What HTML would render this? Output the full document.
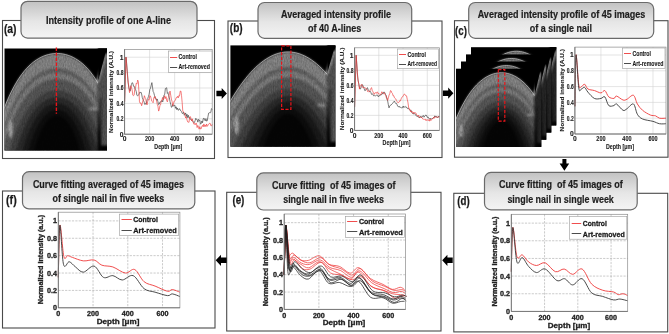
<!DOCTYPE html><html><head><meta charset="utf-8"><style>html,body{margin:0;padding:0;background:#fff;width:669px;height:334px;overflow:hidden}svg{display:block;will-change:transform}text{font-family:"Liberation Sans", sans-serif;white-space:pre}</style></head><body>
<svg width="669" height="334" viewBox="0 0 669 334">
<defs>
<linearGradient id="tg" x1="0" y1="0" x2="0" y2="1"><stop offset="0" stop-color="#c2c2c2"/><stop offset="0.55" stop-color="#e6e6e6"/><stop offset="1" stop-color="#f4f4f4"/></linearGradient>
<linearGradient id="og" x1="0" y1="0" x2="0" y2="1"><stop offset="0" stop-color="#8a8a8a"/><stop offset="0.1" stop-color="#8e8e8e"/><stop offset="0.5" stop-color="#6a6a6a"/><stop offset="1" stop-color="#2a2a2a"/></linearGradient>
<radialGradient id="orad"><stop offset="0" stop-color="#000" stop-opacity="1"/><stop offset="0.55" stop-color="#000" stop-opacity="0.95"/><stop offset="1" stop-color="#000" stop-opacity="0"/></radialGradient>
<filter id="bl1" x="-50%" y="-50%" width="200%" height="200%"><feGaussianBlur stdDeviation="0.8"/></filter>
<filter id="otex" x="0" y="0" width="100%" height="100%" color-interpolation-filters="sRGB"><feGaussianBlur in="SourceGraphic" stdDeviation="1.3" result="b"/><feTurbulence type="fractalNoise" baseFrequency="0.9 0.35" numOctaves="2" seed="5" result="n"/><feColorMatrix in="n" type="matrix" values="0 0 0 0 0.5  0 0 0 0 0.5  0 0 0 0 0.5  0.33 0.33 0.33 0 0" result="ng"/><feComposite in="b" in2="ng" operator="arithmetic" k1="1.1" k2="0.45" k3="0" k4="0"/></filter>
<filter id="tex" x="0" y="0" width="100%" height="100%"><feTurbulence type="fractalNoise" baseFrequency="0.9 0.08" numOctaves="2" seed="3"/><feColorMatrix type="saturate" values="0"/></filter>
</defs>
<rect width="669" height="334" fill="#fff"/>
<rect x="2.5" y="20.5" width="212" height="138" fill="none" stroke="#4a4a4a" stroke-width="1.1"/>
<rect x="228" y="21" width="214" height="136.5" fill="none" stroke="#4a4a4a" stroke-width="1.1"/>
<rect x="454.5" y="20.7" width="213.5" height="136.5" fill="none" stroke="#4a4a4a" stroke-width="1.1"/>
<rect x="2.5" y="191" width="212.5" height="137" fill="none" stroke="#4a4a4a" stroke-width="1.1"/>
<rect x="226.7" y="192.3" width="214.3" height="138.7" fill="none" stroke="#4a4a4a" stroke-width="1.1"/>
<rect x="453.8" y="193.3" width="213.9" height="138.6" fill="none" stroke="#4a4a4a" stroke-width="1.1"/>
<text x="10.2" y="32.9" font-size="12.2" font-weight="bold" text-anchor="middle" fill="#1a1a1a" textLength="12.6" lengthAdjust="spacingAndGlyphs" stroke="#1a1a1a" stroke-width="0.25" >(a)</text>
<text x="236.2" y="32" font-size="12.2" font-weight="bold" text-anchor="middle" fill="#1a1a1a" textLength="12.8" lengthAdjust="spacingAndGlyphs" stroke="#1a1a1a" stroke-width="0.25" >(b)</text>
<text x="461" y="34.7" font-size="12.2" font-weight="bold" text-anchor="middle" fill="#1a1a1a" textLength="11.8" lengthAdjust="spacingAndGlyphs" stroke="#1a1a1a" stroke-width="0.25" >(c)</text>
<text x="11.4" y="203.5" font-size="12.2" font-weight="bold" text-anchor="middle" fill="#1a1a1a" textLength="10.6" lengthAdjust="spacingAndGlyphs" stroke="#1a1a1a" stroke-width="0.25" >(f)</text>
<text x="238.4" y="204" font-size="12.2" font-weight="bold" text-anchor="middle" fill="#1a1a1a" textLength="12" lengthAdjust="spacingAndGlyphs" stroke="#1a1a1a" stroke-width="0.25" >(e)</text>
<text x="463.5" y="204.5" font-size="12.2" font-weight="bold" text-anchor="middle" fill="#1a1a1a" textLength="12.4" lengthAdjust="spacingAndGlyphs" stroke="#1a1a1a" stroke-width="0.25" >(d)</text>
<rect x="21" y="1.3" width="176" height="36.8" rx="6.5" ry="6.5" fill="url(#tg)" stroke="#6a6a6a" stroke-width="1.2"/>
<text x="108.5" y="24" font-size="10.2" font-weight="bold" text-anchor="middle" fill="#1e1e1e" textLength="125" lengthAdjust="spacingAndGlyphs" stroke="#1e1e1e" stroke-width="0.2" >Intensity profile of one A-line</text>
<rect x="258" y="2.5" width="153.7" height="35.8" rx="6.5" ry="6.5" fill="url(#tg)" stroke="#6a6a6a" stroke-width="1.2"/>
<text x="336" y="17.8" font-size="10.2" font-weight="bold" text-anchor="middle" fill="#1e1e1e" textLength="110" lengthAdjust="spacingAndGlyphs" stroke="#1e1e1e" stroke-width="0.2" >Averaged intensity profile</text>
<text x="334.7" y="32.2" font-size="10.2" font-weight="bold" text-anchor="middle" fill="#1e1e1e" textLength="53.4" lengthAdjust="spacingAndGlyphs" stroke="#1e1e1e" stroke-width="0.2" >of 40 A-lines</text>
<rect x="468.7" y="2.5" width="185" height="35.8" rx="6.5" ry="6.5" fill="url(#tg)" stroke="#6a6a6a" stroke-width="1.2"/>
<text x="561.5" y="17.8" font-size="10.2" font-weight="bold" text-anchor="middle" fill="#1e1e1e" textLength="167.6" lengthAdjust="spacingAndGlyphs" stroke="#1e1e1e" stroke-width="0.2" >Averaged intensity profile of 45 images</text>
<text x="560.9" y="32.2" font-size="10.2" font-weight="bold" text-anchor="middle" fill="#1e1e1e" textLength="62.2" lengthAdjust="spacingAndGlyphs" stroke="#1e1e1e" stroke-width="0.2" >of a single nail</text>
<rect x="22.5" y="171.7" width="172.3" height="37.2" rx="6.5" ry="6.5" fill="url(#tg)" stroke="#6a6a6a" stroke-width="1.2"/>
<text x="108.45" y="187.8" font-size="10.2" font-weight="bold" text-anchor="middle" fill="#1e1e1e" textLength="151.1" lengthAdjust="spacingAndGlyphs" stroke="#1e1e1e" stroke-width="0.2" >Curve fitting averaged of 45 images</text>
<text x="108.35" y="202.2" font-size="10.2" font-weight="bold" text-anchor="middle" fill="#1e1e1e" textLength="111.7" lengthAdjust="spacingAndGlyphs" stroke="#1e1e1e" stroke-width="0.2" >of single nail in five weeks</text>
<rect x="256.8" y="172.9" width="154" height="37.1" rx="6.5" ry="6.5" fill="url(#tg)" stroke="#6a6a6a" stroke-width="1.2"/>
<text x="333.8" y="188.6" font-size="10.2" font-weight="bold" text-anchor="middle" fill="#1e1e1e" textLength="123.6" lengthAdjust="spacingAndGlyphs" stroke="#1e1e1e" stroke-width="0.2" >Curve fitting  of 45 images of</text>
<text x="333.55" y="202.9" font-size="10.2" font-weight="bold" text-anchor="middle" fill="#1e1e1e" textLength="100.7" lengthAdjust="spacingAndGlyphs" stroke="#1e1e1e" stroke-width="0.2" >single nail in five weeks</text>
<rect x="484.5" y="172.4" width="152.7" height="37.4" rx="6.5" ry="6.5" fill="url(#tg)" stroke="#6a6a6a" stroke-width="1.2"/>
<text x="560.85" y="188.3" font-size="10.2" font-weight="bold" text-anchor="middle" fill="#1e1e1e" textLength="123.9" lengthAdjust="spacingAndGlyphs" stroke="#1e1e1e" stroke-width="0.2" >Curve fitting  of 45 images of</text>
<text x="560.6" y="202.7" font-size="10.2" font-weight="bold" text-anchor="middle" fill="#1e1e1e" textLength="106.4" lengthAdjust="spacingAndGlyphs" stroke="#1e1e1e" stroke-width="0.2" >single nail in single week</text>
<path d="M216.4,90.7 L221.7,90.7 L221.7,87.9 L226.9,93.5 L221.7,99.1 L221.7,96.3 L216.4,96.3 Z" fill="#000"/>
<path d="M442.9,90.4 L448.2,90.4 L448.2,87.6 L453.4,93.2 L448.2,98.8 L448.2,96 L442.9,96 Z" fill="#000"/>
<path d="M452.7,257.5 L447.4,257.5 L447.4,254.7 L442.2,260.3 L447.4,265.9 L447.4,263.1 L452.7,263.1 Z" fill="#000"/>
<path d="M226.6,257.5 L221,257.5 L221,254.7 L215.7,260.3 L221,265.9 L221,263.1 L226.6,263.1 Z" fill="#000"/>
<path d="M562.4,159 L562.4,163.5 L559.6,163.5 L564.4,170.8 L569.2,163.5 L566.4,163.5 L566.4,159 Z" fill="#000"/>
<clipPath id="oc1"><rect x="4.5" y="48.5" width="102.5" height="102"/></clipPath>
<rect x="4.5" y="48.5" width="102.5" height="102" fill="#000"/>
<g clip-path="url(#oc1)">
<g filter="url(#otex)">
<path d="M-0.62,122.17 L2.19,113.86 L5.01,106.31 L7.83,99.46 L10.65,93.27 L13.47,87.69 L16.29,82.68 L19.11,78.19 L21.93,74.18 L24.74,70.63 L27.56,67.48 L30.38,64.73 L33.2,62.32 L36.02,60.25 L38.84,58.49 L41.66,57.02 L44.48,55.82 L47.29,54.88 L50.11,54.19 L52.93,53.74 L55.75,53.52 L58.57,53.53 L61.39,53.78 L64.21,54.26 L67.03,54.99 L69.84,55.96 L72.66,57.19 L75.48,58.7 L78.3,60.5 L81.12,62.61 L83.94,65.06 L86.76,67.86 L89.58,71.06 L92.39,74.67 L95.21,78.73 L98.03,83.29 L100.85,88.37 L103.67,94.02 L106.49,100.29 L109.31,107.23 L112.12,114.87 L112.12,211.7 L-0.62,211.7 Z" fill="#aaaaaa"/>
<path d="M-0.62,138.78 L2.19,130.22 L5.01,122.45 L7.83,115.41 L10.65,109.05 L13.47,103.31 L16.29,98.17 L19.11,93.56 L21.93,89.45 L24.74,85.81 L27.56,82.59 L30.38,79.76 L33.2,77.31 L36.02,75.19 L38.84,73.39 L41.66,71.88 L44.48,70.66 L47.29,69.7 L50.11,68.99 L52.93,68.53 L55.75,68.31 L58.57,68.33 L61.39,68.58 L64.21,69.07 L67.03,69.81 L69.84,70.8 L72.66,72.06 L75.48,73.6 L78.3,75.44 L81.12,77.6 L83.94,80.1 L86.76,82.97 L89.58,86.25 L92.39,89.95 L95.21,94.12 L98.03,98.79 L100.85,104.01 L103.67,109.82 L106.49,116.26 L109.31,123.39 L112.12,131.26 L112.12,211.7 L-0.62,211.7 Z" fill="#7c7c7c"/>
<path d="M-0.62,145.26 L2.19,136.44 L5.01,128.44 L7.83,121.2 L10.65,114.66 L13.47,108.77 L16.29,103.48 L19.11,98.75 L21.93,94.54 L24.74,90.8 L27.56,87.5 L30.38,84.61 L33.2,82.09 L36.02,79.93 L38.84,78.09 L41.66,76.55 L44.48,75.3 L47.29,74.32 L50.11,73.6 L52.93,73.13 L55.75,72.9 L58.57,72.92 L61.39,73.17 L64.21,73.68 L67.03,74.43 L69.84,75.44 L72.66,76.73 L75.48,78.3 L78.3,80.18 L81.12,82.39 L83.94,84.96 L86.76,87.9 L89.58,91.25 L92.39,95.05 L95.21,99.32 L98.03,104.12 L100.85,109.48 L103.67,115.45 L106.49,122.08 L109.31,129.42 L112.12,137.52 L112.12,211.7 L-0.62,211.7 Z" fill="#a0a0a0"/>
<path d="M-0.62,157.53 L2.19,147.87 L5.01,139.12 L7.83,131.22 L10.65,124.09 L13.47,117.68 L16.29,111.94 L19.11,106.81 L21.93,102.25 L24.74,98.22 L27.56,94.66 L30.38,91.55 L33.2,88.85 L36.02,86.53 L38.84,84.56 L41.66,82.91 L44.48,81.58 L47.29,80.53 L50.11,79.76 L52.93,79.26 L55.75,79.02 L58.57,79.04 L61.39,79.31 L64.21,79.85 L67.03,80.65 L69.84,81.73 L72.66,83.1 L75.48,84.79 L78.3,86.8 L81.12,89.17 L83.94,91.92 L86.76,95.09 L89.58,98.7 L92.39,102.8 L95.21,107.43 L98.03,112.63 L100.85,118.46 L103.67,124.95 L106.49,132.18 L109.31,140.19 L112.12,149.05 L112.12,211.7 L-0.62,211.7 Z" fill="#707070"/>
<path d="M-0.62,189.58 L2.19,177.03 L5.01,165.71 L7.83,155.52 L10.65,146.38 L13.47,138.21 L16.29,130.92 L19.11,124.45 L21.93,118.73 L24.74,113.7 L27.56,109.28 L30.38,105.44 L33.2,102.13 L36.02,99.29 L38.84,96.9 L41.66,94.91 L44.48,93.31 L47.29,92.05 L50.11,91.13 L52.93,90.53 L55.75,90.25 L58.57,90.27 L61.39,90.59 L64.21,91.23 L67.03,92.19 L69.84,93.49 L72.66,95.15 L75.48,97.18 L78.3,99.63 L81.12,102.52 L83.94,105.9 L86.76,109.81 L89.58,114.3 L92.39,119.42 L95.21,125.23 L98.03,131.8 L100.85,139.2 L103.67,147.49 L106.49,156.75 L109.31,167.08 L112.12,178.56 L112.12,211.7 L-0.62,211.7 Z" fill="#525252"/>
<path d="M-0.62,211.7 L2.19,210.14 L5.01,194.98 L7.83,181.41 L10.65,169.31 L13.47,158.54 L16.29,149.01 L19.11,140.59 L21.93,133.2 L24.74,126.73 L27.56,121.1 L30.38,116.24 L33.2,112.07 L36.02,108.53 L38.84,105.55 L41.66,103.1 L44.48,101.12 L47.29,99.59 L50.11,98.47 L52.93,97.74 L55.75,97.39 L58.57,97.42 L61.39,97.81 L64.21,98.59 L67.03,99.76 L69.84,101.35 L72.66,103.38 L75.48,105.9 L78.3,108.94 L81.12,112.57 L83.94,116.82 L86.76,121.78 L89.58,127.5 L92.39,134.08 L95.21,141.6 L98.03,150.16 L100.85,159.84 L103.67,170.77 L106.49,183.05 L109.31,196.82 L112.12,211.7 L112.12,211.7 L-0.62,211.7 Z" fill="#363636"/>
<path d="M-0.62,211.7 L2.19,211.7 L5.01,211.7 L7.83,211.7 L10.65,202.74 L13.47,187.33 L16.29,173.8 L19.11,161.95 L21.93,151.62 L24.74,142.67 L27.56,134.96 L30.38,128.36 L33.2,122.75 L36.02,118.02 L38.84,114.09 L41.66,110.88 L44.48,108.31 L47.29,106.33 L50.11,104.9 L52.93,103.97 L55.75,103.52 L58.57,103.55 L61.39,104.06 L64.21,105.05 L67.03,106.56 L69.84,108.61 L72.66,111.25 L75.48,114.55 L78.3,118.58 L81.12,123.41 L83.94,129.14 L86.76,135.88 L89.58,143.74 L92.39,152.86 L95.21,163.37 L98.03,175.42 L100.85,189.19 L103.67,204.84 L106.49,211.7 L109.31,211.7 L112.12,211.7 L112.12,211.7 L-0.62,211.7 Z" fill="#202020"/>
<path d="M-0.62,211.7 L2.19,211.7 L5.01,211.7 L7.83,211.7 L10.65,211.7 L13.47,211.7 L16.29,211 L19.11,193.2 L21.93,177.85 L24.74,164.68 L27.56,153.46 L30.38,143.97 L33.2,136 L36.02,129.37 L38.84,123.93 L41.66,119.52 L44.48,116.04 L47.29,113.39 L50.11,111.47 L52.93,110.24 L55.75,109.66 L58.57,109.7 L61.39,110.36 L64.21,111.68 L67.03,113.68 L69.84,116.44 L72.66,120.03 L75.48,124.56 L78.3,130.15 L81.12,136.93 L83.94,145.09 L86.76,154.79 L89.58,166.24 L92.39,179.68 L95.21,195.32 L98.03,211.7 L100.85,211.7 L103.67,211.7 L106.49,211.7 L109.31,211.7 L112.12,211.7 L112.12,211.7 L-0.62,211.7 Z" fill="#101010"/>
<path d="M-0.62,211.7 L2.19,211.7 L5.01,211.7 L7.83,211.7 L10.65,211.7 L13.47,211.7 L16.29,211.7 L19.11,211.7 L21.93,211.7 L24.74,198.98 L27.56,181.25 L30.38,166.47 L33.2,154.26 L36.02,144.26 L38.84,136.18 L41.66,129.76 L44.48,124.76 L47.29,120.99 L50.11,118.31 L52.93,116.61 L55.75,115.8 L58.57,115.85 L61.39,116.77 L64.21,118.6 L67.03,121.41 L69.84,125.32 L72.66,130.49 L75.48,137.11 L78.3,145.42 L81.12,155.68 L83.94,168.2 L86.76,183.34 L89.58,201.47 L92.39,211.7 L95.21,211.7 L98.03,211.7 L100.85,211.7 L103.67,211.7 L106.49,211.7 L109.31,211.7 L112.12,211.7 L112.12,211.7 L-0.62,211.7 Z" fill="#060606"/>
<path d="M97.78,38.3 L97.78,160.7 L117.25,160.7 L117.25,38.3 Z" fill="#000"/>
<path d="M96.75,82.85 L105.97,54.62 L109.05,52.58 L109.05,145.4 L100.85,145.4 Z" fill="#6a6a6a"/>
<path d="M96.75,83.87 L106.49,53.6" stroke="#c0c0c0" stroke-width="2.56"/>
<rect x="100.34" y="98.15" width="1.02" height="56.1" fill="#101010"/>
<ellipse cx="10.65" cy="129.08" rx="2.05" ry="9.18" fill="#d8d8d8"/>
<ellipse cx="93.67" cy="108.68" rx="4.61" ry="1.84" fill="#b0b0b0"/>
</g>
<path d="M-0.62,122.17 L1.83,114.87 L4.29,108.16 L6.76,101.99 L9.21,96.34 L11.68,91.17 L14.14,86.46 L16.59,82.17 L19.05,78.27 L21.52,74.74 L23.98,71.55 L26.44,68.69 L28.9,66.13 L31.36,63.86 L33.82,61.84 L36.27,60.08 L38.73,58.55 L41.2,57.24 L43.66,56.14 L46.12,55.24 L48.58,54.54 L51.04,54.02 L53.5,53.68 L55.95,53.51 L58.41,53.53 L60.88,53.72 L63.33,54.09 L65.79,54.64 L68.25,55.38 L70.72,56.31 L73.17,57.44 L75.63,58.79 L78.09,60.36 L80.55,62.16 L83.02,64.22 L85.48,66.54 L87.94,69.15 L90.4,72.06 L92.86,75.3 L95.32,78.89 L97.78,82.85" fill="none" stroke="#e4e4e4" stroke-opacity="0.75" stroke-width="0.8"/>
<path d="M98.29,80.81 L98.29,38.3 L117.25,38.3 L105.46,52.58 Z" fill="#000"/>
</g>
<line x1="56.4" y1="47.5" x2="56.4" y2="113.7" stroke="#e8141a" stroke-width="1.4" stroke-dasharray="3.4,1.6"/>
<clipPath id="oc2"><rect x="230.4" y="45.4" width="105" height="101.3"/></clipPath>
<rect x="230.4" y="45.4" width="105" height="101.3" fill="#000"/>
<g clip-path="url(#oc2)">
<g filter="url(#otex)">
<path d="M225.15,110.33 L228.04,105.11 L230.93,100.13 L233.81,95.39 L236.7,90.9 L239.59,86.65 L242.47,82.65 L245.36,78.9 L248.25,75.39 L251.14,72.12 L254.03,69.1 L256.91,66.33 L259.8,63.8 L262.69,61.52 L265.58,59.48 L268.46,57.68 L271.35,56.13 L274.24,54.83 L277.12,53.77 L280.01,52.96 L282.9,52.39 L285.79,52.07 L288.68,51.99 L291.56,52.16 L294.45,52.57 L297.34,53.23 L300.23,54.13 L303.11,55.28 L306,56.67 L308.89,58.31 L311.77,60.19 L314.66,62.32 L317.55,64.69 L320.44,67.31 L323.33,70.17 L326.21,73.28 L329.1,76.64 L331.99,80.24 L334.88,84.08 L337.76,88.17 L340.65,92.5 L340.65,207.48 L225.15,207.48 Z" fill="#aaaaaa"/>
<path d="M225.15,126.21 L228.04,120.87 L230.93,115.79 L233.81,110.96 L236.7,106.38 L239.59,102.05 L242.47,97.97 L245.36,94.13 L248.25,90.55 L251.14,87.22 L254.03,84.14 L256.91,81.31 L259.8,78.73 L262.69,76.4 L265.58,74.32 L268.46,72.49 L271.35,70.91 L274.24,69.58 L277.12,68.5 L280.01,67.67 L282.9,67.09 L285.79,66.76 L288.68,66.68 L291.56,66.85 L294.45,67.27 L297.34,67.94 L300.23,68.86 L303.11,70.03 L306,71.45 L308.89,73.12 L311.77,75.04 L314.66,77.22 L317.55,79.64 L320.44,82.31 L323.33,85.23 L326.21,88.4 L329.1,91.83 L331.99,95.5 L334.88,99.42 L337.76,103.59 L340.65,108.02 L340.65,207.48 L225.15,207.48 Z" fill="#7c7c7c"/>
<path d="M225.15,131.99 L228.04,126.54 L230.93,121.36 L233.81,116.43 L236.7,111.75 L239.59,107.33 L242.47,103.17 L245.36,99.26 L248.25,95.6 L251.14,92.2 L254.03,89.06 L256.91,86.17 L259.8,83.53 L262.69,81.16 L265.58,79.03 L268.46,77.16 L271.35,75.55 L274.24,74.19 L277.12,73.09 L280.01,72.25 L282.9,71.65 L285.79,71.32 L288.68,71.24 L291.56,71.41 L294.45,71.84 L297.34,72.52 L300.23,73.46 L303.11,74.66 L306,76.11 L308.89,77.81 L311.77,79.78 L314.66,81.99 L317.55,84.46 L320.44,87.19 L323.33,90.17 L326.21,93.41 L329.1,96.9 L331.99,100.65 L334.88,104.65 L337.76,108.91 L340.65,113.42 L340.65,207.48 L225.15,207.48 Z" fill="#a0a0a0"/>
<path d="M225.15,141.96 L228.04,136.17 L230.93,130.65 L233.81,125.4 L236.7,120.43 L239.59,115.72 L242.47,111.29 L245.36,107.13 L248.25,103.24 L251.14,99.62 L254.03,96.28 L256.91,93.2 L259.8,90.4 L262.69,87.87 L265.58,85.61 L268.46,83.62 L271.35,81.91 L274.24,80.46 L277.12,79.29 L280.01,78.39 L282.9,77.76 L285.79,77.4 L288.68,77.31 L291.56,77.5 L294.45,77.96 L297.34,78.68 L300.23,79.68 L303.11,80.96 L306,82.5 L308.89,84.31 L311.77,86.4 L314.66,88.76 L317.55,91.39 L320.44,94.29 L323.33,97.46 L326.21,100.91 L329.1,104.63 L331.99,108.61 L334.88,112.87 L337.76,117.4 L340.65,122.21 L340.65,207.48 L225.15,207.48 Z" fill="#707070"/>
<path d="M225.15,165.54 L228.04,158.64 L230.93,152.06 L233.81,145.8 L236.7,139.87 L239.59,134.26 L242.47,128.97 L245.36,124.01 L248.25,119.37 L251.14,115.06 L254.03,111.07 L256.91,107.4 L259.8,104.06 L262.69,101.05 L265.58,98.35 L268.46,95.98 L271.35,93.93 L274.24,92.21 L277.12,90.81 L280.01,89.74 L282.9,88.99 L285.79,88.56 L288.68,88.46 L291.56,88.68 L294.45,89.22 L297.34,90.09 L300.23,91.28 L303.11,92.8 L306,94.64 L308.89,96.81 L311.77,99.29 L314.66,102.11 L317.55,105.24 L320.44,108.7 L323.33,112.48 L326.21,116.59 L329.1,121.02 L331.99,125.78 L334.88,130.86 L337.76,136.26 L340.65,141.99 L340.65,207.48 L225.15,207.48 Z" fill="#525252"/>
<path d="M225.15,189.04 L228.04,180.66 L230.93,172.68 L233.81,165.09 L236.7,157.9 L239.59,151.1 L242.47,144.69 L245.36,138.67 L248.25,133.04 L251.14,127.81 L254.03,122.97 L256.91,118.53 L259.8,114.48 L262.69,110.82 L265.58,107.55 L268.46,104.67 L271.35,102.19 L274.24,100.1 L277.12,98.41 L280.01,97.1 L282.9,96.19 L285.79,95.67 L288.68,95.55 L291.56,95.82 L294.45,96.48 L297.34,97.53 L300.23,98.98 L303.11,100.82 L306,103.05 L308.89,105.67 L311.77,108.69 L314.66,112.1 L317.55,115.9 L320.44,120.1 L323.33,124.69 L326.21,129.67 L329.1,135.04 L331.99,140.81 L334.88,146.97 L337.76,153.52 L340.65,160.47 L340.65,207.48 L225.15,207.48 Z" fill="#363636"/>
<path d="M225.15,207.48 L228.04,207.48 L230.93,199.87 L233.81,190.21 L236.7,181.04 L239.59,172.38 L242.47,164.21 L245.36,156.55 L248.25,149.39 L251.14,142.72 L254.03,136.56 L256.91,130.9 L259.8,125.74 L262.69,121.07 L265.58,116.91 L268.46,113.25 L271.35,110.09 L274.24,107.43 L277.12,105.27 L280.01,103.61 L282.9,102.45 L285.79,101.79 L288.68,101.63 L291.56,101.97 L294.45,102.81 L297.34,104.15 L300.23,106 L303.11,108.34 L306,111.18 L308.89,114.52 L311.77,118.37 L314.66,122.71 L317.55,127.55 L320.44,132.9 L323.33,138.74 L326.21,145.09 L329.1,151.93 L331.99,159.28 L334.88,167.12 L337.76,175.47 L340.65,184.32 L340.65,207.48 L225.15,207.48 Z" fill="#202020"/>
<path d="M225.15,207.48 L228.04,207.48 L230.93,207.48 L233.81,207.48 L236.7,207.48 L239.59,200.87 L242.47,190.12 L245.36,180.03 L248.25,170.6 L251.14,161.82 L254.03,153.71 L256.91,146.25 L259.8,139.45 L262.69,133.31 L265.58,127.83 L268.46,123.01 L271.35,118.85 L274.24,115.35 L277.12,112.5 L280.01,110.32 L282.9,108.79 L285.79,107.92 L288.68,107.71 L291.56,108.16 L294.45,109.27 L297.34,111.03 L300.23,113.46 L303.11,116.54 L306,120.29 L308.89,124.69 L311.77,129.75 L314.66,135.47 L317.55,141.85 L320.44,148.89 L323.33,156.58 L326.21,164.94 L329.1,173.95 L331.99,183.62 L334.88,193.96 L337.76,204.95 L340.65,207.48 L340.65,207.48 L225.15,207.48 Z" fill="#101010"/>
<path d="M225.15,207.48 L228.04,207.48 L230.93,207.48 L233.81,207.48 L236.7,207.48 L239.59,207.48 L242.47,207.48 L245.36,207.48 L248.25,200.33 L251.14,188.26 L254.03,177.09 L256.91,166.83 L259.8,157.47 L262.69,149.03 L265.58,141.49 L268.46,134.85 L271.35,129.12 L274.24,124.3 L277.12,120.39 L280.01,117.38 L282.9,115.28 L285.79,114.08 L288.68,113.79 L291.56,114.41 L294.45,115.94 L297.34,118.37 L300.23,121.7 L303.11,125.95 L306,131.1 L308.89,137.16 L311.77,144.12 L314.66,151.99 L317.55,160.77 L320.44,170.46 L323.33,181.05 L326.21,192.54 L329.1,204.95 L331.99,207.48 L334.88,207.48 L337.76,207.48 L340.65,207.48 L340.65,207.48 L225.15,207.48 Z" fill="#060606"/>
<path d="M327,35.27 L327,156.83 L345.9,156.83 L345.9,35.27 Z" fill="#000"/>
<path d="M325.95,74.17 L334.35,51.48 L337.5,49.45 L337.5,141.63 L330.15,141.63 Z" fill="#6a6a6a"/>
<path d="M325.95,75.19 L334.88,50.46" stroke="#c0c0c0" stroke-width="2.62"/>
<rect x="329.62" y="89.37" width="1.05" height="55.72" fill="#101010"/>
<ellipse cx="236.7" cy="125.43" rx="2.1" ry="9.12" fill="#d8d8d8"/>
<ellipse cx="321.75" cy="105.17" rx="4.72" ry="1.82" fill="#b0b0b0"/>
</g>
<path d="M225.15,110.33 L227.7,105.71 L230.24,101.28 L232.79,97.04 L235.34,92.99 L237.88,89.13 L240.43,85.47 L242.97,81.99 L245.52,78.7 L248.07,75.6 L250.61,72.7 L253.16,69.98 L255.71,67.46 L258.25,65.13 L260.8,62.98 L263.34,61.03 L265.89,59.27 L268.44,57.7 L270.98,56.32 L273.53,55.13 L276.07,54.13 L278.62,53.32 L281.17,52.7 L283.71,52.27 L286.26,52.04 L288.81,51.99 L291.35,52.14 L293.9,52.47 L296.44,53 L298.99,53.71 L301.54,54.62 L304.08,55.72 L306.63,57.01 L309.18,58.48 L311.72,60.15 L314.27,62.01 L316.81,64.06 L319.36,66.31 L321.91,68.74 L324.45,71.36 L327,74.17" fill="none" stroke="#e4e4e4" stroke-opacity="0.75" stroke-width="0.8"/>
<path d="M327.52,72.15 L327.52,35.27 L345.9,35.27 L333.82,49.45 Z" fill="#000"/>
</g>
<rect x="281.6" y="45.8" width="9.3" height="63.6" fill="none" stroke="#e8141a" stroke-width="1.2" stroke-dasharray="3.2,1.5"/>
<clipPath id="oc3"><rect x="471" y="47.2" width="85.3" height="78.2"/></clipPath>
<rect x="471" y="47.2" width="85.3" height="78.2" fill="#000"/>
<g clip-path="url(#oc3)">
<g filter="url(#otex)">
<path d="M466.74,108.39 L469.08,102.22 L471.43,96.51 L473.77,91.25 L476.12,86.41 L478.46,81.97 L480.81,77.9 L483.16,74.19 L485.5,70.81 L487.85,67.75 L490.19,65 L492.54,62.53 L494.88,60.34 L497.23,58.4 L499.58,56.72 L501.92,55.28 L504.27,54.06 L506.61,53.08 L508.96,52.31 L511.3,51.75 L513.65,51.41 L516,51.27 L518.34,51.34 L520.69,51.62 L523.03,52.1 L525.38,52.8 L527.72,53.72 L530.07,54.85 L532.42,56.22 L534.76,57.82 L537.11,59.67 L539.45,61.78 L541.8,64.16 L544.14,66.82 L546.49,69.78 L548.84,73.05 L551.18,76.65 L553.53,80.6 L555.87,84.92 L558.22,89.62 L560.57,94.74 L560.57,172.32 L466.74,172.32 Z" fill="#aaaaaa"/>
<path d="M466.74,121.11 L469.08,114.77 L471.43,108.92 L473.77,103.52 L476.12,98.56 L478.46,94.01 L480.81,89.84 L483.16,86.04 L485.5,82.58 L487.85,79.45 L490.19,76.63 L492.54,74.11 L494.88,71.87 L497.23,69.89 L499.58,68.17 L501.92,66.7 L504.27,65.46 L506.61,64.45 L508.96,63.67 L511.3,63.1 L513.65,62.75 L516,62.61 L518.34,62.68 L520.69,62.96 L523.03,63.46 L525.38,64.17 L527.72,65.11 L530.07,66.27 L532.42,67.66 L534.76,69.3 L537.11,71.19 L539.45,73.35 L541.8,75.78 L544.14,78.5 L546.49,81.52 L548.84,84.87 L551.18,88.56 L553.53,92.6 L555.87,97.03 L558.22,101.85 L560.57,107.1 L560.57,172.32 L466.74,172.32 Z" fill="#7c7c7c"/>
<path d="M466.74,126.06 L469.08,119.55 L471.43,113.55 L473.77,108.01 L476.12,102.92 L478.46,98.25 L480.81,93.98 L483.16,90.08 L485.5,86.54 L487.85,83.34 L490.19,80.46 L492.54,77.88 L494.88,75.58 L497.23,73.56 L499.58,71.81 L501.92,70.3 L504.27,69.04 L506.61,68.01 L508.96,67.21 L511.3,66.63 L513.65,66.27 L516,66.13 L518.34,66.2 L520.69,66.49 L523.03,67 L525.38,67.72 L527.72,68.68 L530.07,69.86 L532.42,71.29 L534.76,72.96 L537.11,74.89 L539.45,77.1 L541.8,79.58 L544.14,82.36 L546.49,85.46 L548.84,88.89 L551.18,92.66 L553.53,96.81 L555.87,101.35 L558.22,106.3 L560.57,111.68 L560.57,172.32 L466.74,172.32 Z" fill="#a0a0a0"/>
<path d="M466.74,135.4 L469.08,128.33 L471.43,121.82 L473.77,115.82 L476.12,110.32 L478.46,105.27 L480.81,100.67 L483.16,96.47 L485.5,92.67 L487.85,89.23 L490.19,86.13 L492.54,83.37 L494.88,80.91 L497.23,78.75 L499.58,76.87 L501.92,75.27 L504.27,73.92 L506.61,72.82 L508.96,71.97 L511.3,71.35 L513.65,70.97 L516,70.82 L518.34,70.9 L520.69,71.2 L523.03,71.74 L525.38,72.52 L527.72,73.53 L530.07,74.8 L532.42,76.32 L534.76,78.11 L537.11,80.17 L539.45,82.53 L541.8,85.19 L544.14,88.18 L546.49,91.5 L548.84,95.19 L551.18,99.25 L553.53,103.72 L555.87,108.62 L558.22,113.97 L560.57,119.8 L560.57,172.32 L466.74,172.32 Z" fill="#707070"/>
<path d="M466.74,159.45 L469.08,150.5 L471.43,142.27 L473.77,134.73 L476.12,127.83 L478.46,121.54 L480.81,115.81 L483.16,110.62 L485.5,105.92 L487.85,101.7 L490.19,97.91 L492.54,94.54 L494.88,91.56 L497.23,88.95 L499.58,86.68 L501.92,84.75 L504.27,83.13 L506.61,81.82 L508.96,80.8 L511.3,80.06 L513.65,79.6 L516,79.42 L518.34,79.51 L520.69,79.88 L523.03,80.52 L525.38,81.45 L527.72,82.67 L530.07,84.18 L532.42,86.01 L534.76,88.17 L537.11,90.67 L539.45,93.52 L541.8,96.77 L544.14,100.41 L546.49,104.49 L548.84,109.03 L551.18,114.05 L553.53,119.6 L555.87,125.7 L558.22,132.4 L560.57,139.73 L560.57,172.32 L466.74,172.32 Z" fill="#525252"/>
<path d="M466.74,172.32 L469.08,172.32 L471.43,164.37 L473.77,154.6 L476.12,145.7 L478.46,137.62 L480.81,130.31 L483.16,123.7 L485.5,117.76 L487.85,112.44 L490.19,107.7 L492.54,103.49 L494.88,99.79 L497.23,96.56 L499.58,93.77 L501.92,91.39 L504.27,89.41 L506.61,87.81 L508.96,86.57 L511.3,85.67 L513.65,85.12 L516,84.9 L518.34,85.01 L520.69,85.45 L523.03,86.24 L525.38,87.36 L527.72,88.85 L530.07,90.7 L532.42,92.94 L534.76,95.6 L537.11,98.68 L539.45,102.23 L541.8,106.26 L544.14,110.83 L546.49,115.96 L548.84,121.69 L551.18,128.07 L553.53,135.15 L555.87,142.97 L558.22,151.59 L560.57,161.08 L560.57,172.32 L466.74,172.32 Z" fill="#363636"/>
<path d="M466.74,172.32 L469.08,172.32 L471.43,172.32 L473.77,172.32 L476.12,171.2 L478.46,160.02 L480.81,149.97 L483.16,140.95 L485.5,132.89 L487.85,125.73 L490.19,119.38 L492.54,113.79 L494.88,108.9 L497.23,104.65 L499.58,101.01 L501.92,97.93 L504.27,95.37 L506.61,93.31 L508.96,91.72 L511.3,90.58 L513.65,89.87 L516,89.59 L518.34,89.73 L520.69,90.3 L523.03,91.3 L525.38,92.74 L527.72,94.65 L530.07,97.04 L532.42,99.94 L534.76,103.4 L537.11,107.44 L539.45,112.11 L541.8,117.47 L544.14,123.56 L546.49,130.45 L548.84,138.21 L551.18,146.91 L553.53,156.61 L555.87,167.42 L558.22,172.32 L560.57,172.32 L560.57,172.32 L466.74,172.32 Z" fill="#202020"/>
<path d="M466.74,172.32 L469.08,172.32 L471.43,172.32 L473.77,172.32 L476.12,172.32 L478.46,172.32 L480.81,172.32 L483.16,165.67 L485.5,154.11 L487.85,143.91 L490.19,134.96 L492.54,127.14 L494.88,120.36 L497.23,114.53 L499.58,109.57 L501.92,105.4 L504.27,101.97 L506.61,99.21 L508.96,97.1 L511.3,95.59 L513.65,94.65 L516,94.28 L518.34,94.47 L520.69,95.22 L523.03,96.54 L525.38,98.45 L527.72,100.99 L530.07,104.2 L532.42,108.12 L534.76,112.82 L537.11,118.36 L539.45,124.82 L541.8,132.28 L544.14,140.85 L546.49,150.63 L548.84,161.73 L551.18,172.32 L553.53,172.32 L555.87,172.32 L558.22,172.32 L560.57,172.32 L560.57,172.32 L466.74,172.32 Z" fill="#101010"/>
<path d="M466.74,172.32 L469.08,172.32 L471.43,172.32 L473.77,172.32 L476.12,172.32 L478.46,172.32 L480.81,172.32 L483.16,172.32 L485.5,172.32 L487.85,171.66 L490.19,158.07 L492.54,146.34 L494.88,136.28 L497.23,127.74 L499.58,120.54 L501.92,114.57 L504.27,109.7 L506.61,105.82 L508.96,102.87 L511.3,100.78 L513.65,99.49 L516,98.98 L518.34,99.24 L520.69,100.27 L523.03,102.1 L525.38,104.76 L527.72,108.32 L530.07,112.86 L532.42,118.46 L534.76,125.24 L537.11,133.33 L539.45,142.87 L541.8,154.03 L544.14,167 L546.49,172.32 L548.84,172.32 L551.18,172.32 L553.53,172.32 L555.87,172.32 L558.22,172.32 L560.57,172.32 L560.57,172.32 L466.74,172.32 Z" fill="#060606"/>
<path d="M549.48,39.38 L549.48,133.22 L564.83,133.22 L564.83,39.38 Z" fill="#000"/>
<path d="M548.62,74 L555.45,51.89 L558.01,50.33 L558.01,121.49 L552.03,121.49 Z" fill="#303030"/>
<path d="M548.62,74.78 L555.87,51.11" stroke="#d8d8d8" stroke-width="2.13"/>
<rect x="551.61" y="85.73" width="0.85" height="43.01" fill="#101010"/>
<ellipse cx="476.12" cy="108.98" rx="1.71" ry="7.04" fill="#d8d8d8"/>
<ellipse cx="545.21" cy="93.34" rx="3.84" ry="1.41" fill="#b0b0b0"/>
</g>
<path d="M466.74,108.39 L468.8,102.92 L470.87,97.82 L472.94,93.07 L475.01,88.65 L477.08,84.55 L479.15,80.75 L481.21,77.23 L483.28,74 L485.35,71.02 L487.42,68.29 L489.49,65.79 L491.56,63.53 L493.63,61.48 L495.69,59.64 L497.76,58 L499.83,56.55 L501.9,55.29 L503.97,54.21 L506.04,53.3 L508.11,52.56 L510.17,51.99 L512.24,51.59 L514.31,51.35 L516.38,51.27 L518.45,51.35 L520.52,51.59 L522.59,51.99 L524.65,52.56 L526.72,53.3 L528.79,54.21 L530.86,55.29 L532.93,56.55 L535,58 L537.06,59.64 L539.13,61.48 L541.2,63.53 L543.27,65.79 L545.34,68.29 L547.41,71.02 L549.48,74" fill="none" stroke="#e4e4e4" stroke-opacity="0.75" stroke-width="0.8"/>
<path d="M549.9,72.43 L549.9,39.38 L564.83,39.38 L555.02,50.33 Z" fill="#000"/>
</g>
<clipPath id="oc4"><rect x="466" y="54.4" width="85.3" height="78.2"/></clipPath>
<rect x="466" y="54.4" width="85.3" height="78.2" fill="#000"/>
<g clip-path="url(#oc4)">
<g filter="url(#otex)">
<path d="M461.74,115.59 L464.08,109.42 L466.43,103.71 L468.77,98.45 L471.12,93.61 L473.46,89.17 L475.81,85.1 L478.16,81.39 L480.5,78.01 L482.85,74.95 L485.19,72.2 L487.54,69.73 L489.88,67.54 L492.23,65.6 L494.58,63.92 L496.92,62.48 L499.27,61.26 L501.61,60.28 L503.96,59.51 L506.3,58.95 L508.65,58.61 L511,58.47 L513.34,58.54 L515.69,58.82 L518.03,59.3 L520.38,60 L522.72,60.92 L525.07,62.05 L527.42,63.42 L529.76,65.02 L532.11,66.87 L534.45,68.98 L536.8,71.36 L539.14,74.02 L541.49,76.98 L543.84,80.25 L546.18,83.85 L548.53,87.8 L550.87,92.12 L553.22,96.82 L555.57,101.94 L555.57,179.52 L461.74,179.52 Z" fill="#aaaaaa"/>
<path d="M461.74,128.31 L464.08,121.97 L466.43,116.12 L468.77,110.72 L471.12,105.76 L473.46,101.21 L475.81,97.04 L478.16,93.24 L480.5,89.78 L482.85,86.65 L485.19,83.83 L487.54,81.31 L489.88,79.07 L492.23,77.09 L494.58,75.37 L496.92,73.9 L499.27,72.66 L501.61,71.65 L503.96,70.87 L506.3,70.3 L508.65,69.95 L511,69.81 L513.34,69.88 L515.69,70.16 L518.03,70.66 L520.38,71.37 L522.72,72.31 L525.07,73.47 L527.42,74.86 L529.76,76.5 L532.11,78.39 L534.45,80.55 L536.8,82.98 L539.14,85.7 L541.49,88.72 L543.84,92.07 L546.18,95.76 L548.53,99.8 L550.87,104.23 L553.22,109.05 L555.57,114.3 L555.57,179.52 L461.74,179.52 Z" fill="#7c7c7c"/>
<path d="M461.74,133.26 L464.08,126.75 L466.43,120.75 L468.77,115.21 L471.12,110.12 L473.46,105.45 L475.81,101.18 L478.16,97.28 L480.5,93.74 L482.85,90.54 L485.19,87.66 L487.54,85.08 L489.88,82.78 L492.23,80.76 L494.58,79.01 L496.92,77.5 L499.27,76.24 L501.61,75.21 L503.96,74.41 L506.3,73.83 L508.65,73.47 L511,73.33 L513.34,73.4 L515.69,73.69 L518.03,74.2 L520.38,74.92 L522.72,75.88 L525.07,77.06 L527.42,78.49 L529.76,80.16 L532.11,82.09 L534.45,84.3 L536.8,86.78 L539.14,89.56 L541.49,92.66 L543.84,96.09 L546.18,99.86 L548.53,104.01 L550.87,108.55 L553.22,113.5 L555.57,118.88 L555.57,179.52 L461.74,179.52 Z" fill="#a0a0a0"/>
<path d="M461.74,142.6 L464.08,135.53 L466.43,129.02 L468.77,123.02 L471.12,117.52 L473.46,112.47 L475.81,107.87 L478.16,103.67 L480.5,99.87 L482.85,96.43 L485.19,93.33 L487.54,90.57 L489.88,88.11 L492.23,85.95 L494.58,84.07 L496.92,82.47 L499.27,81.12 L501.61,80.02 L503.96,79.17 L506.3,78.55 L508.65,78.17 L511,78.02 L513.34,78.1 L515.69,78.4 L518.03,78.94 L520.38,79.72 L522.72,80.73 L525.07,82 L527.42,83.52 L529.76,85.31 L532.11,87.37 L534.45,89.73 L536.8,92.39 L539.14,95.38 L541.49,98.7 L543.84,102.39 L546.18,106.45 L548.53,110.92 L550.87,115.82 L553.22,121.17 L555.57,127 L555.57,179.52 L461.74,179.52 Z" fill="#707070"/>
<path d="M461.74,166.65 L464.08,157.7 L466.43,149.47 L468.77,141.93 L471.12,135.03 L473.46,128.74 L475.81,123.01 L478.16,117.82 L480.5,113.12 L482.85,108.9 L485.19,105.11 L487.54,101.74 L489.88,98.76 L492.23,96.15 L494.58,93.88 L496.92,91.95 L499.27,90.33 L501.61,89.02 L503.96,88 L506.3,87.26 L508.65,86.8 L511,86.62 L513.34,86.71 L515.69,87.08 L518.03,87.72 L520.38,88.65 L522.72,89.87 L525.07,91.38 L527.42,93.21 L529.76,95.37 L532.11,97.87 L534.45,100.72 L536.8,103.97 L539.14,107.61 L541.49,111.69 L543.84,116.23 L546.18,121.25 L548.53,126.8 L550.87,132.9 L553.22,139.6 L555.57,146.93 L555.57,179.52 L461.74,179.52 Z" fill="#525252"/>
<path d="M461.74,179.52 L464.08,179.52 L466.43,171.57 L468.77,161.8 L471.12,152.9 L473.46,144.82 L475.81,137.51 L478.16,130.9 L480.5,124.96 L482.85,119.64 L485.19,114.9 L487.54,110.69 L489.88,106.99 L492.23,103.76 L494.58,100.97 L496.92,98.59 L499.27,96.61 L501.61,95.01 L503.96,93.77 L506.3,92.87 L508.65,92.32 L511,92.1 L513.34,92.21 L515.69,92.65 L518.03,93.44 L520.38,94.56 L522.72,96.05 L525.07,97.9 L527.42,100.14 L529.76,102.8 L532.11,105.88 L534.45,109.43 L536.8,113.46 L539.14,118.03 L541.49,123.16 L543.84,128.89 L546.18,135.27 L548.53,142.35 L550.87,150.17 L553.22,158.79 L555.57,168.28 L555.57,179.52 L461.74,179.52 Z" fill="#363636"/>
<path d="M461.74,179.52 L464.08,179.52 L466.43,179.52 L468.77,179.52 L471.12,178.4 L473.46,167.22 L475.81,157.17 L478.16,148.15 L480.5,140.09 L482.85,132.93 L485.19,126.58 L487.54,120.99 L489.88,116.1 L492.23,111.85 L494.58,108.21 L496.92,105.13 L499.27,102.57 L501.61,100.51 L503.96,98.92 L506.3,97.78 L508.65,97.07 L511,96.79 L513.34,96.93 L515.69,97.5 L518.03,98.5 L520.38,99.94 L522.72,101.85 L525.07,104.24 L527.42,107.14 L529.76,110.6 L532.11,114.64 L534.45,119.31 L536.8,124.67 L539.14,130.76 L541.49,137.65 L543.84,145.41 L546.18,154.11 L548.53,163.81 L550.87,174.62 L553.22,179.52 L555.57,179.52 L555.57,179.52 L461.74,179.52 Z" fill="#202020"/>
<path d="M461.74,179.52 L464.08,179.52 L466.43,179.52 L468.77,179.52 L471.12,179.52 L473.46,179.52 L475.81,179.52 L478.16,172.87 L480.5,161.31 L482.85,151.11 L485.19,142.16 L487.54,134.34 L489.88,127.56 L492.23,121.73 L494.58,116.77 L496.92,112.6 L499.27,109.17 L501.61,106.41 L503.96,104.3 L506.3,102.79 L508.65,101.85 L511,101.48 L513.34,101.67 L515.69,102.42 L518.03,103.74 L520.38,105.65 L522.72,108.19 L525.07,111.4 L527.42,115.32 L529.76,120.02 L532.11,125.56 L534.45,132.02 L536.8,139.48 L539.14,148.05 L541.49,157.83 L543.84,168.93 L546.18,179.52 L548.53,179.52 L550.87,179.52 L553.22,179.52 L555.57,179.52 L555.57,179.52 L461.74,179.52 Z" fill="#101010"/>
<path d="M461.74,179.52 L464.08,179.52 L466.43,179.52 L468.77,179.52 L471.12,179.52 L473.46,179.52 L475.81,179.52 L478.16,179.52 L480.5,179.52 L482.85,178.86 L485.19,165.27 L487.54,153.54 L489.88,143.48 L492.23,134.94 L494.58,127.74 L496.92,121.77 L499.27,116.9 L501.61,113.02 L503.96,110.07 L506.3,107.98 L508.65,106.69 L511,106.18 L513.34,106.44 L515.69,107.47 L518.03,109.3 L520.38,111.96 L522.72,115.52 L525.07,120.06 L527.42,125.66 L529.76,132.44 L532.11,140.53 L534.45,150.07 L536.8,161.23 L539.14,174.2 L541.49,179.52 L543.84,179.52 L546.18,179.52 L548.53,179.52 L550.87,179.52 L553.22,179.52 L555.57,179.52 L555.57,179.52 L461.74,179.52 Z" fill="#060606"/>
<path d="M544.48,46.58 L544.48,140.42 L559.83,140.42 L559.83,46.58 Z" fill="#000"/>
<path d="M543.62,81.2 L550.45,59.09 L553.01,57.53 L553.01,128.69 L547.03,128.69 Z" fill="#303030"/>
<path d="M543.62,81.98 L550.87,58.31" stroke="#d8d8d8" stroke-width="2.13"/>
<rect x="546.61" y="92.93" width="0.85" height="43.01" fill="#101010"/>
<ellipse cx="471.12" cy="116.18" rx="1.71" ry="7.04" fill="#d8d8d8"/>
<ellipse cx="540.21" cy="100.54" rx="3.84" ry="1.41" fill="#b0b0b0"/>
</g>
<path d="M461.74,115.59 L463.8,110.12 L465.87,105.02 L467.94,100.27 L470.01,95.85 L472.08,91.75 L474.15,87.95 L476.21,84.43 L478.28,81.2 L480.35,78.22 L482.42,75.49 L484.49,72.99 L486.56,70.73 L488.63,68.68 L490.69,66.84 L492.76,65.2 L494.83,63.75 L496.9,62.49 L498.97,61.41 L501.04,60.5 L503.11,59.76 L505.17,59.19 L507.24,58.79 L509.31,58.55 L511.38,58.47 L513.45,58.55 L515.52,58.79 L517.59,59.19 L519.65,59.76 L521.72,60.5 L523.79,61.41 L525.86,62.49 L527.93,63.75 L530,65.2 L532.06,66.84 L534.13,68.68 L536.2,70.73 L538.27,72.99 L540.34,75.49 L542.41,78.22 L544.48,81.2" fill="none" stroke="#e4e4e4" stroke-opacity="0.75" stroke-width="0.8"/>
<path d="M544.9,79.63 L544.9,46.58 L559.83,46.58 L550.02,57.53 Z" fill="#000"/>
</g>
<clipPath id="oc5"><rect x="461" y="61.5" width="85.3" height="78.2"/></clipPath>
<rect x="461" y="61.5" width="85.3" height="78.2" fill="#000"/>
<g clip-path="url(#oc5)">
<g filter="url(#otex)">
<path d="M456.74,122.69 L459.08,116.52 L461.43,110.81 L463.77,105.55 L466.12,100.71 L468.46,96.27 L470.81,92.2 L473.16,88.49 L475.5,85.11 L477.85,82.05 L480.19,79.3 L482.54,76.83 L484.88,74.64 L487.23,72.7 L489.58,71.02 L491.92,69.58 L494.27,68.36 L496.61,67.38 L498.96,66.61 L501.3,66.05 L503.65,65.71 L506,65.57 L508.34,65.64 L510.69,65.92 L513.03,66.4 L515.38,67.1 L517.72,68.02 L520.07,69.15 L522.42,70.52 L524.76,72.12 L527.11,73.97 L529.45,76.08 L531.8,78.46 L534.14,81.12 L536.49,84.08 L538.84,87.35 L541.18,90.95 L543.53,94.9 L545.87,99.22 L548.22,103.92 L550.57,109.04 L550.57,186.62 L456.74,186.62 Z" fill="#aaaaaa"/>
<path d="M456.74,135.41 L459.08,129.07 L461.43,123.22 L463.77,117.82 L466.12,112.86 L468.46,108.31 L470.81,104.14 L473.16,100.34 L475.5,96.88 L477.85,93.75 L480.19,90.93 L482.54,88.41 L484.88,86.17 L487.23,84.19 L489.58,82.47 L491.92,81 L494.27,79.76 L496.61,78.75 L498.96,77.97 L501.3,77.4 L503.65,77.05 L506,76.91 L508.34,76.98 L510.69,77.26 L513.03,77.76 L515.38,78.47 L517.72,79.41 L520.07,80.57 L522.42,81.96 L524.76,83.6 L527.11,85.49 L529.45,87.65 L531.8,90.08 L534.14,92.8 L536.49,95.82 L538.84,99.17 L541.18,102.86 L543.53,106.9 L545.87,111.33 L548.22,116.15 L550.57,121.4 L550.57,186.62 L456.74,186.62 Z" fill="#7c7c7c"/>
<path d="M456.74,140.36 L459.08,133.85 L461.43,127.85 L463.77,122.31 L466.12,117.22 L468.46,112.55 L470.81,108.28 L473.16,104.38 L475.5,100.84 L477.85,97.64 L480.19,94.76 L482.54,92.18 L484.88,89.88 L487.23,87.86 L489.58,86.11 L491.92,84.6 L494.27,83.34 L496.61,82.31 L498.96,81.51 L501.3,80.93 L503.65,80.57 L506,80.43 L508.34,80.5 L510.69,80.79 L513.03,81.3 L515.38,82.02 L517.72,82.98 L520.07,84.16 L522.42,85.59 L524.76,87.26 L527.11,89.19 L529.45,91.4 L531.8,93.88 L534.14,96.66 L536.49,99.76 L538.84,103.19 L541.18,106.96 L543.53,111.11 L545.87,115.65 L548.22,120.6 L550.57,125.98 L550.57,186.62 L456.74,186.62 Z" fill="#a0a0a0"/>
<path d="M456.74,149.7 L459.08,142.63 L461.43,136.12 L463.77,130.12 L466.12,124.62 L468.46,119.57 L470.81,114.97 L473.16,110.77 L475.5,106.97 L477.85,103.53 L480.19,100.43 L482.54,97.67 L484.88,95.21 L487.23,93.05 L489.58,91.17 L491.92,89.57 L494.27,88.22 L496.61,87.12 L498.96,86.27 L501.3,85.65 L503.65,85.27 L506,85.12 L508.34,85.2 L510.69,85.5 L513.03,86.04 L515.38,86.82 L517.72,87.83 L520.07,89.1 L522.42,90.62 L524.76,92.41 L527.11,94.47 L529.45,96.83 L531.8,99.49 L534.14,102.48 L536.49,105.8 L538.84,109.49 L541.18,113.55 L543.53,118.02 L545.87,122.92 L548.22,128.27 L550.57,134.1 L550.57,186.62 L456.74,186.62 Z" fill="#707070"/>
<path d="M456.74,173.75 L459.08,164.8 L461.43,156.57 L463.77,149.03 L466.12,142.13 L468.46,135.84 L470.81,130.11 L473.16,124.92 L475.5,120.22 L477.85,116 L480.19,112.21 L482.54,108.84 L484.88,105.86 L487.23,103.25 L489.58,100.98 L491.92,99.05 L494.27,97.43 L496.61,96.12 L498.96,95.1 L501.3,94.36 L503.65,93.9 L506,93.72 L508.34,93.81 L510.69,94.18 L513.03,94.82 L515.38,95.75 L517.72,96.97 L520.07,98.48 L522.42,100.31 L524.76,102.47 L527.11,104.97 L529.45,107.82 L531.8,111.07 L534.14,114.71 L536.49,118.79 L538.84,123.33 L541.18,128.35 L543.53,133.9 L545.87,140 L548.22,146.7 L550.57,154.03 L550.57,186.62 L456.74,186.62 Z" fill="#525252"/>
<path d="M456.74,186.62 L459.08,186.62 L461.43,178.67 L463.77,168.9 L466.12,160 L468.46,151.92 L470.81,144.61 L473.16,138 L475.5,132.06 L477.85,126.74 L480.19,122 L482.54,117.79 L484.88,114.09 L487.23,110.86 L489.58,108.07 L491.92,105.69 L494.27,103.71 L496.61,102.11 L498.96,100.87 L501.3,99.97 L503.65,99.42 L506,99.2 L508.34,99.31 L510.69,99.75 L513.03,100.54 L515.38,101.66 L517.72,103.15 L520.07,105 L522.42,107.24 L524.76,109.9 L527.11,112.98 L529.45,116.53 L531.8,120.56 L534.14,125.13 L536.49,130.26 L538.84,135.99 L541.18,142.37 L543.53,149.45 L545.87,157.27 L548.22,165.89 L550.57,175.38 L550.57,186.62 L456.74,186.62 Z" fill="#363636"/>
<path d="M456.74,186.62 L459.08,186.62 L461.43,186.62 L463.77,186.62 L466.12,185.5 L468.46,174.32 L470.81,164.27 L473.16,155.25 L475.5,147.19 L477.85,140.03 L480.19,133.68 L482.54,128.09 L484.88,123.2 L487.23,118.95 L489.58,115.31 L491.92,112.23 L494.27,109.67 L496.61,107.61 L498.96,106.02 L501.3,104.88 L503.65,104.17 L506,103.89 L508.34,104.03 L510.69,104.6 L513.03,105.6 L515.38,107.04 L517.72,108.95 L520.07,111.34 L522.42,114.24 L524.76,117.7 L527.11,121.74 L529.45,126.41 L531.8,131.77 L534.14,137.86 L536.49,144.75 L538.84,152.51 L541.18,161.21 L543.53,170.91 L545.87,181.72 L548.22,186.62 L550.57,186.62 L550.57,186.62 L456.74,186.62 Z" fill="#202020"/>
<path d="M456.74,186.62 L459.08,186.62 L461.43,186.62 L463.77,186.62 L466.12,186.62 L468.46,186.62 L470.81,186.62 L473.16,179.97 L475.5,168.41 L477.85,158.21 L480.19,149.26 L482.54,141.44 L484.88,134.66 L487.23,128.83 L489.58,123.87 L491.92,119.7 L494.27,116.27 L496.61,113.51 L498.96,111.4 L501.3,109.89 L503.65,108.95 L506,108.58 L508.34,108.77 L510.69,109.52 L513.03,110.84 L515.38,112.75 L517.72,115.29 L520.07,118.5 L522.42,122.42 L524.76,127.12 L527.11,132.66 L529.45,139.12 L531.8,146.58 L534.14,155.15 L536.49,164.93 L538.84,176.03 L541.18,186.62 L543.53,186.62 L545.87,186.62 L548.22,186.62 L550.57,186.62 L550.57,186.62 L456.74,186.62 Z" fill="#101010"/>
<path d="M456.74,186.62 L459.08,186.62 L461.43,186.62 L463.77,186.62 L466.12,186.62 L468.46,186.62 L470.81,186.62 L473.16,186.62 L475.5,186.62 L477.85,185.96 L480.19,172.37 L482.54,160.64 L484.88,150.58 L487.23,142.04 L489.58,134.84 L491.92,128.87 L494.27,124 L496.61,120.12 L498.96,117.17 L501.3,115.08 L503.65,113.79 L506,113.28 L508.34,113.54 L510.69,114.57 L513.03,116.4 L515.38,119.06 L517.72,122.62 L520.07,127.16 L522.42,132.76 L524.76,139.54 L527.11,147.63 L529.45,157.17 L531.8,168.33 L534.14,181.3 L536.49,186.62 L538.84,186.62 L541.18,186.62 L543.53,186.62 L545.87,186.62 L548.22,186.62 L550.57,186.62 L550.57,186.62 L456.74,186.62 Z" fill="#060606"/>
<path d="M539.48,53.68 L539.48,147.52 L554.83,147.52 L554.83,53.68 Z" fill="#000"/>
<path d="M538.62,88.3 L545.45,66.19 L548.01,64.63 L548.01,135.79 L542.03,135.79 Z" fill="#303030"/>
<path d="M538.62,89.08 L545.87,65.41" stroke="#d8d8d8" stroke-width="2.13"/>
<rect x="541.61" y="100.03" width="0.85" height="43.01" fill="#101010"/>
<ellipse cx="466.12" cy="123.28" rx="1.71" ry="7.04" fill="#d8d8d8"/>
<ellipse cx="535.21" cy="107.64" rx="3.84" ry="1.41" fill="#b0b0b0"/>
</g>
<path d="M456.74,122.69 L458.8,117.22 L460.87,112.12 L462.94,107.37 L465.01,102.95 L467.08,98.85 L469.15,95.05 L471.21,91.53 L473.28,88.3 L475.35,85.32 L477.42,82.59 L479.49,80.09 L481.56,77.83 L483.63,75.78 L485.69,73.94 L487.76,72.3 L489.83,70.85 L491.9,69.59 L493.97,68.51 L496.04,67.6 L498.11,66.86 L500.17,66.29 L502.24,65.89 L504.31,65.65 L506.38,65.57 L508.45,65.65 L510.52,65.89 L512.59,66.29 L514.65,66.86 L516.72,67.6 L518.79,68.51 L520.86,69.59 L522.93,70.85 L525,72.3 L527.06,73.94 L529.13,75.78 L531.2,77.83 L533.27,80.09 L535.34,82.59 L537.41,85.32 L539.48,88.3" fill="none" stroke="#e4e4e4" stroke-opacity="0.75" stroke-width="0.8"/>
<path d="M539.9,86.73 L539.9,53.68 L554.83,53.68 L545.02,64.63 Z" fill="#000"/>
</g>
<clipPath id="oc6"><rect x="456" y="68.7" width="85.3" height="78.2"/></clipPath>
<rect x="456" y="68.7" width="85.3" height="78.2" fill="#000"/>
<g clip-path="url(#oc6)">
<g filter="url(#otex)">
<path d="M451.74,129.89 L454.08,123.72 L456.43,118.01 L458.77,112.75 L461.12,107.91 L463.46,103.47 L465.81,99.4 L468.16,95.69 L470.5,92.31 L472.85,89.25 L475.19,86.5 L477.54,84.03 L479.88,81.84 L482.23,79.9 L484.58,78.22 L486.92,76.78 L489.27,75.56 L491.61,74.58 L493.96,73.81 L496.3,73.25 L498.65,72.91 L501,72.77 L503.34,72.84 L505.69,73.12 L508.03,73.6 L510.38,74.3 L512.72,75.22 L515.07,76.35 L517.42,77.72 L519.76,79.32 L522.11,81.17 L524.45,83.28 L526.8,85.66 L529.14,88.32 L531.49,91.28 L533.84,94.55 L536.18,98.15 L538.53,102.1 L540.87,106.42 L543.22,111.12 L545.57,116.24 L545.57,193.82 L451.74,193.82 Z" fill="#aaaaaa"/>
<path d="M451.74,142.61 L454.08,136.27 L456.43,130.42 L458.77,125.02 L461.12,120.06 L463.46,115.51 L465.81,111.34 L468.16,107.54 L470.5,104.08 L472.85,100.95 L475.19,98.13 L477.54,95.61 L479.88,93.37 L482.23,91.39 L484.58,89.67 L486.92,88.2 L489.27,86.96 L491.61,85.95 L493.96,85.17 L496.3,84.6 L498.65,84.25 L501,84.11 L503.34,84.18 L505.69,84.46 L508.03,84.96 L510.38,85.67 L512.72,86.61 L515.07,87.77 L517.42,89.16 L519.76,90.8 L522.11,92.69 L524.45,94.85 L526.8,97.28 L529.14,100 L531.49,103.02 L533.84,106.37 L536.18,110.06 L538.53,114.1 L540.87,118.53 L543.22,123.35 L545.57,128.6 L545.57,193.82 L451.74,193.82 Z" fill="#7c7c7c"/>
<path d="M451.74,147.56 L454.08,141.05 L456.43,135.05 L458.77,129.51 L461.12,124.42 L463.46,119.75 L465.81,115.48 L468.16,111.58 L470.5,108.04 L472.85,104.84 L475.19,101.96 L477.54,99.38 L479.88,97.08 L482.23,95.06 L484.58,93.31 L486.92,91.8 L489.27,90.54 L491.61,89.51 L493.96,88.71 L496.3,88.13 L498.65,87.77 L501,87.63 L503.34,87.7 L505.69,87.99 L508.03,88.5 L510.38,89.22 L512.72,90.18 L515.07,91.36 L517.42,92.79 L519.76,94.46 L522.11,96.39 L524.45,98.6 L526.8,101.08 L529.14,103.86 L531.49,106.96 L533.84,110.39 L536.18,114.16 L538.53,118.31 L540.87,122.85 L543.22,127.8 L545.57,133.18 L545.57,193.82 L451.74,193.82 Z" fill="#a0a0a0"/>
<path d="M451.74,156.9 L454.08,149.83 L456.43,143.32 L458.77,137.32 L461.12,131.82 L463.46,126.77 L465.81,122.17 L468.16,117.97 L470.5,114.17 L472.85,110.73 L475.19,107.63 L477.54,104.87 L479.88,102.41 L482.23,100.25 L484.58,98.37 L486.92,96.77 L489.27,95.42 L491.61,94.32 L493.96,93.47 L496.3,92.85 L498.65,92.47 L501,92.32 L503.34,92.4 L505.69,92.7 L508.03,93.24 L510.38,94.02 L512.72,95.03 L515.07,96.3 L517.42,97.82 L519.76,99.61 L522.11,101.67 L524.45,104.03 L526.8,106.69 L529.14,109.68 L531.49,113 L533.84,116.69 L536.18,120.75 L538.53,125.22 L540.87,130.12 L543.22,135.47 L545.57,141.3 L545.57,193.82 L451.74,193.82 Z" fill="#707070"/>
<path d="M451.74,180.95 L454.08,172 L456.43,163.77 L458.77,156.23 L461.12,149.33 L463.46,143.04 L465.81,137.31 L468.16,132.12 L470.5,127.42 L472.85,123.2 L475.19,119.41 L477.54,116.04 L479.88,113.06 L482.23,110.45 L484.58,108.18 L486.92,106.25 L489.27,104.63 L491.61,103.32 L493.96,102.3 L496.3,101.56 L498.65,101.1 L501,100.92 L503.34,101.01 L505.69,101.38 L508.03,102.02 L510.38,102.95 L512.72,104.17 L515.07,105.68 L517.42,107.51 L519.76,109.67 L522.11,112.17 L524.45,115.02 L526.8,118.27 L529.14,121.91 L531.49,125.99 L533.84,130.53 L536.18,135.55 L538.53,141.1 L540.87,147.2 L543.22,153.9 L545.57,161.23 L545.57,193.82 L451.74,193.82 Z" fill="#525252"/>
<path d="M451.74,193.82 L454.08,193.82 L456.43,185.87 L458.77,176.1 L461.12,167.2 L463.46,159.12 L465.81,151.81 L468.16,145.2 L470.5,139.26 L472.85,133.94 L475.19,129.2 L477.54,124.99 L479.88,121.29 L482.23,118.06 L484.58,115.27 L486.92,112.89 L489.27,110.91 L491.61,109.31 L493.96,108.07 L496.3,107.17 L498.65,106.62 L501,106.4 L503.34,106.51 L505.69,106.95 L508.03,107.74 L510.38,108.86 L512.72,110.35 L515.07,112.2 L517.42,114.44 L519.76,117.1 L522.11,120.18 L524.45,123.73 L526.8,127.76 L529.14,132.33 L531.49,137.46 L533.84,143.19 L536.18,149.57 L538.53,156.65 L540.87,164.47 L543.22,173.09 L545.57,182.58 L545.57,193.82 L451.74,193.82 Z" fill="#363636"/>
<path d="M451.74,193.82 L454.08,193.82 L456.43,193.82 L458.77,193.82 L461.12,192.7 L463.46,181.52 L465.81,171.47 L468.16,162.45 L470.5,154.39 L472.85,147.23 L475.19,140.88 L477.54,135.29 L479.88,130.4 L482.23,126.15 L484.58,122.51 L486.92,119.43 L489.27,116.87 L491.61,114.81 L493.96,113.22 L496.3,112.08 L498.65,111.37 L501,111.09 L503.34,111.23 L505.69,111.8 L508.03,112.8 L510.38,114.24 L512.72,116.15 L515.07,118.54 L517.42,121.44 L519.76,124.9 L522.11,128.94 L524.45,133.61 L526.8,138.97 L529.14,145.06 L531.49,151.95 L533.84,159.71 L536.18,168.41 L538.53,178.11 L540.87,188.92 L543.22,193.82 L545.57,193.82 L545.57,193.82 L451.74,193.82 Z" fill="#202020"/>
<path d="M451.74,193.82 L454.08,193.82 L456.43,193.82 L458.77,193.82 L461.12,193.82 L463.46,193.82 L465.81,193.82 L468.16,187.17 L470.5,175.61 L472.85,165.41 L475.19,156.46 L477.54,148.64 L479.88,141.86 L482.23,136.03 L484.58,131.07 L486.92,126.9 L489.27,123.47 L491.61,120.71 L493.96,118.6 L496.3,117.09 L498.65,116.15 L501,115.78 L503.34,115.97 L505.69,116.72 L508.03,118.04 L510.38,119.95 L512.72,122.49 L515.07,125.7 L517.42,129.62 L519.76,134.32 L522.11,139.86 L524.45,146.32 L526.8,153.78 L529.14,162.35 L531.49,172.13 L533.84,183.23 L536.18,193.82 L538.53,193.82 L540.87,193.82 L543.22,193.82 L545.57,193.82 L545.57,193.82 L451.74,193.82 Z" fill="#101010"/>
<path d="M451.74,193.82 L454.08,193.82 L456.43,193.82 L458.77,193.82 L461.12,193.82 L463.46,193.82 L465.81,193.82 L468.16,193.82 L470.5,193.82 L472.85,193.16 L475.19,179.57 L477.54,167.84 L479.88,157.78 L482.23,149.24 L484.58,142.04 L486.92,136.07 L489.27,131.2 L491.61,127.32 L493.96,124.37 L496.3,122.28 L498.65,120.99 L501,120.48 L503.34,120.74 L505.69,121.77 L508.03,123.6 L510.38,126.26 L512.72,129.82 L515.07,134.36 L517.42,139.96 L519.76,146.74 L522.11,154.83 L524.45,164.37 L526.8,175.53 L529.14,188.5 L531.49,193.82 L533.84,193.82 L536.18,193.82 L538.53,193.82 L540.87,193.82 L543.22,193.82 L545.57,193.82 L545.57,193.82 L451.74,193.82 Z" fill="#060606"/>
<path d="M534.48,60.88 L534.48,154.72 L549.83,154.72 L549.83,60.88 Z" fill="#000"/>
<path d="M533.62,95.5 L540.45,73.39 L543.01,71.83 L543.01,142.99 L537.03,142.99 Z" fill="#303030"/>
<path d="M533.62,96.28 L540.87,72.61" stroke="#d8d8d8" stroke-width="2.13"/>
<rect x="536.61" y="107.23" width="0.85" height="43.01" fill="#101010"/>
<ellipse cx="461.12" cy="130.48" rx="1.71" ry="7.04" fill="#d8d8d8"/>
<ellipse cx="530.21" cy="114.84" rx="3.84" ry="1.41" fill="#b0b0b0"/>
</g>
<path d="M451.74,129.89 L453.8,124.42 L455.87,119.32 L457.94,114.57 L460.01,110.15 L462.08,106.05 L464.15,102.25 L466.21,98.73 L468.28,95.5 L470.35,92.52 L472.42,89.79 L474.49,87.29 L476.56,85.03 L478.63,82.98 L480.69,81.14 L482.76,79.5 L484.83,78.05 L486.9,76.79 L488.97,75.71 L491.04,74.8 L493.11,74.06 L495.17,73.49 L497.24,73.09 L499.31,72.85 L501.38,72.77 L503.45,72.85 L505.52,73.09 L507.59,73.49 L509.65,74.06 L511.72,74.8 L513.79,75.71 L515.86,76.79 L517.93,78.05 L520,79.5 L522.06,81.14 L524.13,82.98 L526.2,85.03 L528.27,87.29 L530.34,89.79 L532.41,92.52 L534.48,95.5" fill="none" stroke="#e4e4e4" stroke-opacity="0.75" stroke-width="0.8"/>
<path d="M534.9,93.93 L534.9,60.88 L549.83,60.88 L540.02,71.83 Z" fill="#000"/>
</g>
<rect x="498.3" y="69.6" width="6.5" height="51.5" fill="none" stroke="#e8141a" stroke-width="1.2" stroke-dasharray="3.2,1.5"/>
<rect x="124.6" y="49.5" width="87.6" height="84.7" fill="#fff"/>
<line x1="149.63" y1="49.5" x2="149.63" y2="134.2" stroke="#d2d2d2" stroke-width="0.6"/>
<line x1="174.66" y1="49.5" x2="174.66" y2="134.2" stroke="#d2d2d2" stroke-width="0.6"/>
<line x1="199.69" y1="49.5" x2="199.69" y2="134.2" stroke="#d2d2d2" stroke-width="0.6"/>
<line x1="124.6" y1="118.8" x2="212.2" y2="118.8" stroke="#d2d2d2" stroke-width="0.6"/>
<line x1="124.6" y1="103.4" x2="212.2" y2="103.4" stroke="#d2d2d2" stroke-width="0.6"/>
<line x1="124.6" y1="88" x2="212.2" y2="88" stroke="#d2d2d2" stroke-width="0.6"/>
<line x1="124.6" y1="72.6" x2="212.2" y2="72.6" stroke="#d2d2d2" stroke-width="0.6"/>
<line x1="124.6" y1="57.2" x2="212.2" y2="57.2" stroke="#d2d2d2" stroke-width="0.6"/>
<path d="M124.6,101.86 L125.98,57.2 L126.69,63.56 L127.39,72.07 L128.1,82.61 L128.81,87.48 L129.52,90.17 L130.23,91.08 L130.86,86.71 L131.48,84.34 L132.11,82.61 L132.8,83.17 L133.49,86.19 L134.17,86.16 L134.86,88 L135.55,89.43 L136.24,91.47 L136.93,95.35 L137.61,95.7 L138.27,95.25 L138.93,94.65 L139.59,92.36 L140.24,92.62 L140.93,92.07 L141.62,94.01 L142.31,97.61 L143,99.55 L143.65,100.77 L144.31,102.55 L144.97,104.58 L145.62,103.4 L146.32,103.74 L147.03,99.87 L147.73,98.69 L148.43,96.56 L149.13,94.16 L149.82,89.46 L150.5,88.27 L151.19,85.22 L151.88,82.61 L152.51,87.17 L153.13,91.48 L153.76,92.62 L154.45,95.35 L155.13,98.15 L155.82,98.35 L156.51,100.32 L157.2,98.98 L157.89,101.44 L158.58,104.68 L159.26,104.17 L159.97,101.89 L160.67,101.87 L161.37,101.7 L162.07,100.44 L162.77,101.86 L163.42,97.87 L164.07,94.98 L164.72,94.22 L165.37,88.55 L166.02,88 L166.68,87.79 L167.34,93.42 L167.99,92.6 L168.65,95.7 L169.34,97.59 L170.03,101.65 L170.72,104.22 L171.4,107.25 L172.09,106.91 L172.78,104.52 L173.47,106.09 L174.16,105.71 L174.81,105.14 L175.47,108.31 L176.13,106.83 L176.78,109.56 L177.47,107.97 L178.16,110.25 L178.85,110.02 L179.54,108.64 L180.23,109.81 L180.91,111.1 L181.58,111.68 L182.25,113.41 L182.92,113.45 L183.58,112.23 L184.25,115.21 L184.92,114.18 L185.61,112.94 L186.3,116.53 L186.98,114.2 L187.67,117.63 L188.36,115.28 L189.05,118.03 L189.72,117.72 L190.38,119.29 L191.05,119.87 L191.72,119.9 L192.39,120.83 L193.05,121.88 L193.74,122.36 L194.43,122.46 L195.12,120.67 L195.81,118.33 L196.49,119.39 L197.18,119.57 L197.85,122.17 L198.52,119.37 L199.19,120.45 L199.85,120.25 L200.52,124.2 L201.19,123.42 L201.88,120.94 L202.56,122.76 L203.25,118.67 L203.94,118.03 L204.6,119.85 L205.25,120.83 L205.91,118.61 L206.57,121.11 L207.26,120.81 L207.95,116.77 L208.63,113.12 L209.32,112.64 L210.04,113.05 L210.76,112.44 L211.48,108.57 L212.2,109.56" fill="none" stroke="#383838" stroke-width="0.65" stroke-linejoin="round"/>
<path d="M124.6,101.86 L125.98,57.2 L127.1,71.83 L127.9,79.97 L128.69,85.49 L129.48,92.62 L130.17,89.76 L130.86,85.69 L131.51,87.71 L132.17,90.11 L132.83,95.2 L133.49,95.7 L134.17,94.87 L134.86,87.98 L135.55,87.57 L136.24,83.38 L136.95,84.09 L137.66,80.06 L138.37,81.84 L139.49,101.86 L140.2,103.28 L140.91,102.87 L141.62,105.71 L142.31,103.32 L143,100.06 L143.68,99.82 L144.37,95.7 L145.03,97.39 L145.69,98.62 L146.34,102.52 L147,104.94 L147.69,101.52 L148.38,99.53 L149.07,100.02 L149.75,95.7 L150.44,96.05 L151.13,98.36 L151.82,101.24 L152.51,101.86 L153.16,102.68 L153.82,97.48 L154.48,97.94 L155.13,96.47 L155.84,98.39 L156.54,100.57 L157.24,104.26 L157.94,106.23 L158.64,111.1 L159.29,109.43 L159.94,105.4 L160.59,104.89 L161.24,100.46 L161.89,100.32 L162.58,97.41 L163.27,99.87 L163.96,98.54 L164.65,95.7 L165.33,98.55 L166.02,96.63 L166.71,100.61 L167.4,101.86 L168.06,98.58 L168.71,97.39 L169.37,93.74 L170.03,91.08 L170.72,95.26 L171.4,99.08 L172.09,101.66 L172.78,105.71 L173.44,103.97 L174.09,101.15 L174.75,100.83 L175.41,100.32 L176.1,97.76 L176.78,97.52 L177.47,96.32 L178.16,98.01 L178.85,95.49 L179.54,96.1 L180.23,91.15 L180.91,91.08 L181.54,95.61 L182.17,102.56 L182.79,111.1 L183.5,112.06 L184.21,112.68 L184.92,114.95 L185.61,118.02 L186.3,116.88 L186.98,119.81 L187.67,121.88 L188.32,122.1 L188.97,122.36 L189.62,117.93 L190.27,116.54 L190.93,118.03 L191.63,121.01 L192.33,118.8 L193.03,121.68 L193.73,123.96 L194.43,123.42 L195.1,124.89 L195.76,123.2 L196.43,123.24 L197.1,127.58 L197.77,125.46 L198.43,126.5 L199.12,129.18 L199.81,126.65 L200.5,129.01 L201.19,128.81 L201.85,126.41 L202.52,125.31 L203.19,126.86 L203.86,123.94 L204.52,126.48 L205.19,124.96 L205.88,126.66 L206.57,123.99 L207.26,126.36 L207.95,125.33 L208.63,124.1 L209.32,123.42 L210.04,123.1 L210.76,125.39 L211.48,126.11 L212.2,124.19" fill="none" stroke="#ee3a3a" stroke-width="0.65" stroke-linejoin="round"/>
<rect x="124.6" y="49.5" width="87.6" height="84.7" fill="none" stroke="#8a8a8a" stroke-width="0.7"/>
<line x1="124.6" y1="49.5" x2="124.6" y2="134.2" stroke="#6a6a6a" stroke-width="0.8"/>
<line x1="124.6" y1="134.2" x2="212.2" y2="134.2" stroke="#6a6a6a" stroke-width="0.8"/>
<text x="123.4" y="136.61" font-size="6.7" font-weight="bold" text-anchor="end" fill="#222" stroke="#222" stroke-width="0.12" >0</text>
<text x="123.4" y="121.21" font-size="6.7" font-weight="bold" text-anchor="end" fill="#222" textLength="6.9" lengthAdjust="spacingAndGlyphs" stroke="#222" stroke-width="0.12" >0.2</text>
<text x="123.4" y="105.81" font-size="6.7" font-weight="bold" text-anchor="end" fill="#222" textLength="6.9" lengthAdjust="spacingAndGlyphs" stroke="#222" stroke-width="0.12" >0.4</text>
<text x="123.4" y="90.41" font-size="6.7" font-weight="bold" text-anchor="end" fill="#222" textLength="6.9" lengthAdjust="spacingAndGlyphs" stroke="#222" stroke-width="0.12" >0.6</text>
<text x="123.4" y="75.01" font-size="6.7" font-weight="bold" text-anchor="end" fill="#222" textLength="6.9" lengthAdjust="spacingAndGlyphs" stroke="#222" stroke-width="0.12" >0.8</text>
<text x="123.4" y="59.61" font-size="6.7" font-weight="bold" text-anchor="end" fill="#222" stroke="#222" stroke-width="0.12" >1</text>
<text x="124.6" y="141.3" font-size="6.7" font-weight="bold" text-anchor="middle" fill="#222" stroke="#222" stroke-width="0.12" >0</text>
<text x="149.63" y="141.3" font-size="6.7" font-weight="bold" text-anchor="middle" fill="#222" textLength="9.18" lengthAdjust="spacingAndGlyphs" stroke="#222" stroke-width="0.12" >200</text>
<text x="174.66" y="141.3" font-size="6.7" font-weight="bold" text-anchor="middle" fill="#222" textLength="9.18" lengthAdjust="spacingAndGlyphs" stroke="#222" stroke-width="0.12" >400</text>
<text x="199.69" y="141.3" font-size="6.7" font-weight="bold" text-anchor="middle" fill="#222" textLength="9.18" lengthAdjust="spacingAndGlyphs" stroke="#222" stroke-width="0.12" >600</text>
<text x="168.3" y="149.2" font-size="6.5" font-weight="bold" text-anchor="middle" fill="#222" textLength="28" lengthAdjust="spacingAndGlyphs" stroke="#222" stroke-width="0.12" >Depth [μm]</text>
<text x="113.3" y="92" font-size="6.1" font-weight="bold" text-anchor="middle" fill="#222" textLength="82" lengthAdjust="spacingAndGlyphs" transform="rotate(-90 113.3 92)" stroke="#222" stroke-width="0.12" >Normalized intensity (A.U.)</text>
<rect x="168.3" y="51" width="43.7" height="21.3" fill="#fff" stroke="#9a9a9a" stroke-width="0.6"/>
<line x1="170" y1="57.5" x2="177.2" y2="57.5" stroke="#ee3a3a" stroke-width="0.9"/>
<text x="178.5" y="59.31" font-size="6.6" font-weight="bold" text-anchor="start" fill="#1a1a1a" textLength="18.5" lengthAdjust="spacingAndGlyphs" stroke="#1a1a1a" stroke-width="0.12" >Control</text>
<line x1="170" y1="67.5" x2="177.2" y2="67.5" stroke="#383838" stroke-width="0.9"/>
<text x="178.5" y="69.31" font-size="6.6" font-weight="bold" text-anchor="start" fill="#1a1a1a" textLength="31.5" lengthAdjust="spacingAndGlyphs" stroke="#1a1a1a" stroke-width="0.12" >Art-removed</text>
<rect x="354.6" y="47.8" width="84.8" height="82.6" fill="#fff"/>
<line x1="378.83" y1="47.8" x2="378.83" y2="130.4" stroke="#d2d2d2" stroke-width="0.6"/>
<line x1="403.06" y1="47.8" x2="403.06" y2="130.4" stroke="#d2d2d2" stroke-width="0.6"/>
<line x1="427.29" y1="47.8" x2="427.29" y2="130.4" stroke="#d2d2d2" stroke-width="0.6"/>
<line x1="354.6" y1="115.38" x2="439.4" y2="115.38" stroke="#d2d2d2" stroke-width="0.6"/>
<line x1="354.6" y1="100.36" x2="439.4" y2="100.36" stroke="#d2d2d2" stroke-width="0.6"/>
<line x1="354.6" y1="85.35" x2="439.4" y2="85.35" stroke="#d2d2d2" stroke-width="0.6"/>
<line x1="354.6" y1="70.33" x2="439.4" y2="70.33" stroke="#d2d2d2" stroke-width="0.6"/>
<line x1="354.6" y1="55.31" x2="439.4" y2="55.31" stroke="#d2d2d2" stroke-width="0.6"/>
<path d="M354.6,107.12 L356.17,55.31 L356.78,64.16 L357.39,72.72 L357.99,80.09 L358.68,83.33 L359.36,86.87 L360.05,89.1 L360.74,88.57 L361.42,86.32 L362.11,84.59 L362.78,85.15 L363.44,86.92 L364.11,88.5 L364.78,90.6 L365.44,90.48 L366.11,89.02 L366.77,88.85 L367.44,87.6 L368.13,89.46 L368.81,90.74 L369.5,91.62 L370.19,91.14 L370.87,92.49 L371.56,94.36 L372.23,93.92 L372.89,94.18 L373.56,95.8 L374.23,95.79 L374.89,95.32 L375.56,95.86 L376.24,95.34 L376.93,95.06 L377.62,95 L378.3,96.79 L378.99,95.62 L379.68,95.86 L380.34,94.85 L381.01,94.59 L381.68,94.71 L382.34,93.41 L383.01,93.65 L383.67,92.1 L384.34,92.06 L385.01,93.16 L385.67,94.81 L386.34,95.86 L387.01,99.31 L387.67,100.94 L388.34,104.71 L389,107.87 L389.7,106.07 L390.4,105.21 L391.09,105.04 L391.79,104.12 L392.46,103.56 L393.12,102.39 L393.79,102.02 L394.46,101.11 L395.12,102.82 L395.79,103.43 L396.45,103.23 L397.12,104.87 L397.79,106.4 L398.45,106.89 L399.12,106.09 L399.79,107.37 L400.45,107.29 L401.12,107.87 L401.81,107.69 L402.49,107.73 L403.18,106 L403.86,107.56 L404.55,106.82 L405.24,106.37 L405.9,107.54 L406.57,107.07 L407.24,108.38 L407.9,108.7 L408.57,108.32 L409.24,109.37 L409.9,110.4 L410.57,110.49 L411.23,110.34 L411.9,112.78 L412.57,113.49 L413.23,113.13 L413.92,114.24 L414.61,113.53 L415.29,114.37 L415.98,115.72 L416.67,116.01 L417.35,116.13 L418.02,117.11 L418.68,116.73 L419.35,117.91 L420.02,116.69 L420.68,116.49 L421.35,117.63 L422.02,116.23 L422.68,116.35 L423.35,115.47 L424.01,117.22 L424.68,116.23 L425.35,115.38 L426.03,114.96 L426.72,116.01 L427.41,117.46 L428.09,116.89 L428.78,118.24 L429.47,119.14 L430.13,118.17 L430.8,119.1 L431.47,119.08 L432.13,118.26 L432.8,118.7 L433.46,117.63 L434.13,117.53 L434.8,115.84 L435.46,116.89 L436.13,116.13 L436.78,117.39 L437.44,117.46 L438.09,117.33 L438.75,116.09 L439.4,116.88" fill="none" stroke="#383838" stroke-width="0.65" stroke-linejoin="round"/>
<path d="M354.6,107.12 L356.17,55.31 L356.9,65.92 L357.63,77.09 L358.23,80.55 L358.84,84.43 L359.45,89.1 L360.05,86.6 L360.66,85.56 L361.26,84.59 L361.99,84.64 L362.72,87.66 L363.44,87.6 L364.14,88.05 L364.84,87.35 L365.53,88.39 L366.23,89.1 L366.9,88.95 L367.56,91.47 L368.23,91.42 L368.89,92.1 L369.56,91.55 L370.23,89.75 L370.89,88.56 L371.56,87.6 L372.23,90.38 L372.89,91.62 L373.56,93.16 L374.23,94.36 L374.89,92.86 L375.56,92.63 L376.22,93.43 L376.89,92.1 L377.59,92 L378.28,94.04 L378.98,93.53 L379.68,94.36 L380.34,94.63 L381.01,94.35 L381.68,91.83 L382.34,92.1 L383.01,93.32 L383.67,93.87 L384.34,92.71 L385.01,94.36 L385.67,95.02 L386.34,97.83 L387.01,97.82 L387.67,100.36 L388.37,97.83 L389.07,95.08 L389.76,93.71 L390.46,90.6 L391.12,90.92 L391.79,92.8 L392.46,93.49 L393.12,95.86 L393.79,95.72 L394.46,97.81 L395.12,98.42 L395.79,98.86 L396.45,100.55 L397.12,101.54 L397.79,102.66 L398.45,102.62 L399.12,102.13 L399.79,100.51 L400.45,100.92 L401.12,98.86 L401.82,97.33 L402.51,96.97 L403.21,95.91 L403.91,94.36 L404.57,94.01 L405.24,95.15 L405.9,95.9 L406.57,95.86 L407.24,99.28 L407.9,102.16 L408.57,106.99 L409.24,109.37 L409.9,109.06 L410.57,111.95 L411.23,111.06 L411.9,112.38 L412.59,111.73 L413.27,113.71 L413.96,112.11 L414.65,113.18 L415.33,112.83 L416.02,113.13 L416.69,114.99 L417.35,115.65 L418.02,116.1 L418.68,115.11 L419.35,117.57 L420.02,117.63 L420.68,117.31 L421.35,117.17 L422.02,117.39 L422.68,118.99 L423.35,119.21 L424.01,119.14 L424.7,119.33 L425.39,119.02 L426.07,120.77 L426.76,119.58 L427.45,119.72 L428.13,120.64 L428.8,119.58 L429.47,121.18 L430.13,118.88 L430.8,120.56 L431.47,119.75 L432.13,119.14 L432.8,118.51 L433.46,117.44 L434.13,118.37 L434.8,116.68 L435.46,117.16 L436.13,116.88 L436.78,117.16 L437.44,117 L438.09,117.16 L438.75,117.23 L439.4,116.13" fill="none" stroke="#ee3a3a" stroke-width="0.65" stroke-linejoin="round"/>
<rect x="354.6" y="47.8" width="84.8" height="82.6" fill="none" stroke="#8a8a8a" stroke-width="0.7"/>
<line x1="354.6" y1="47.8" x2="354.6" y2="130.4" stroke="#6a6a6a" stroke-width="0.8"/>
<line x1="354.6" y1="130.4" x2="439.4" y2="130.4" stroke="#6a6a6a" stroke-width="0.8"/>
<text x="353.4" y="132.81" font-size="6.7" font-weight="bold" text-anchor="end" fill="#222" stroke="#222" stroke-width="0.12" >0</text>
<text x="353.4" y="117.79" font-size="6.7" font-weight="bold" text-anchor="end" fill="#222" textLength="6.9" lengthAdjust="spacingAndGlyphs" stroke="#222" stroke-width="0.12" >0.2</text>
<text x="353.4" y="102.78" font-size="6.7" font-weight="bold" text-anchor="end" fill="#222" textLength="6.9" lengthAdjust="spacingAndGlyphs" stroke="#222" stroke-width="0.12" >0.4</text>
<text x="353.4" y="87.76" font-size="6.7" font-weight="bold" text-anchor="end" fill="#222" textLength="6.9" lengthAdjust="spacingAndGlyphs" stroke="#222" stroke-width="0.12" >0.6</text>
<text x="353.4" y="72.74" font-size="6.7" font-weight="bold" text-anchor="end" fill="#222" textLength="6.9" lengthAdjust="spacingAndGlyphs" stroke="#222" stroke-width="0.12" >0.8</text>
<text x="353.4" y="57.72" font-size="6.7" font-weight="bold" text-anchor="end" fill="#222" stroke="#222" stroke-width="0.12" >1</text>
<text x="354.6" y="137.5" font-size="6.7" font-weight="bold" text-anchor="middle" fill="#222" stroke="#222" stroke-width="0.12" >0</text>
<text x="378.83" y="137.5" font-size="6.7" font-weight="bold" text-anchor="middle" fill="#222" textLength="9.18" lengthAdjust="spacingAndGlyphs" stroke="#222" stroke-width="0.12" >200</text>
<text x="403.06" y="137.5" font-size="6.7" font-weight="bold" text-anchor="middle" fill="#222" textLength="9.18" lengthAdjust="spacingAndGlyphs" stroke="#222" stroke-width="0.12" >400</text>
<text x="427.29" y="137.5" font-size="6.7" font-weight="bold" text-anchor="middle" fill="#222" textLength="9.18" lengthAdjust="spacingAndGlyphs" stroke="#222" stroke-width="0.12" >600</text>
<text x="396.6" y="145" font-size="6.5" font-weight="bold" text-anchor="middle" fill="#222" textLength="28" lengthAdjust="spacingAndGlyphs" stroke="#222" stroke-width="0.12" >Depth [μm]</text>
<text x="344" y="88.9" font-size="6.1" font-weight="bold" text-anchor="middle" fill="#222" textLength="82.8" lengthAdjust="spacingAndGlyphs" transform="rotate(-90 344 88.9)" stroke="#222" stroke-width="0.12" >Normalized intensity (A.U.)</text>
<rect x="397.4" y="49" width="41.3" height="19.7" fill="#fff" stroke="#9a9a9a" stroke-width="0.6"/>
<line x1="399" y1="54.5" x2="406" y2="54.5" stroke="#ee3a3a" stroke-width="0.9"/>
<text x="407.5" y="56.81" font-size="6.6" font-weight="bold" text-anchor="start" fill="#1a1a1a" textLength="18.5" lengthAdjust="spacingAndGlyphs" stroke="#1a1a1a" stroke-width="0.12" >Control</text>
<line x1="399" y1="64.5" x2="406" y2="64.5" stroke="#383838" stroke-width="0.9"/>
<text x="407.5" y="66.31" font-size="6.6" font-weight="bold" text-anchor="start" fill="#1a1a1a" textLength="29.5" lengthAdjust="spacingAndGlyphs" stroke="#1a1a1a" stroke-width="0.12" >Art-removed</text>
<rect x="574.9" y="47.1" width="91.1" height="86.9" fill="#fff"/>
<line x1="600.93" y1="47.1" x2="600.93" y2="134" stroke="#d2d2d2" stroke-width="0.6"/>
<line x1="626.96" y1="47.1" x2="626.96" y2="134" stroke="#d2d2d2" stroke-width="0.6"/>
<line x1="652.99" y1="47.1" x2="652.99" y2="134" stroke="#d2d2d2" stroke-width="0.6"/>
<line x1="574.9" y1="118.2" x2="666" y2="118.2" stroke="#d2d2d2" stroke-width="0.6"/>
<line x1="574.9" y1="102.4" x2="666" y2="102.4" stroke="#d2d2d2" stroke-width="0.6"/>
<line x1="574.9" y1="86.6" x2="666" y2="86.6" stroke="#d2d2d2" stroke-width="0.6"/>
<line x1="574.9" y1="70.8" x2="666" y2="70.8" stroke="#d2d2d2" stroke-width="0.6"/>
<line x1="574.9" y1="55" x2="666" y2="55" stroke="#d2d2d2" stroke-width="0.6"/>
<path d="M574.9,106.35 C575.07,97.79 575.29,58.55 575.94,55 C576.59,51.45 577.89,79.75 578.8,85.02 C579.72,90.29 580.43,86.73 581.41,86.6 C582.38,86.47 583.58,83.83 584.66,84.23 C585.75,84.62 586.29,87.92 587.91,88.97 C589.54,90.02 592.25,89.89 594.42,90.55 C596.59,91.21 599.19,92.92 600.93,92.92 C602.66,92.92 603.53,89.89 604.83,90.55 C606.13,91.21 607.22,95.55 608.74,96.87 C610.26,98.19 612.64,98.58 613.94,98.45 C615.24,98.32 615.03,95.82 616.55,96.08 C618.06,96.34 621.32,99.5 623.05,100.03 C624.79,100.56 625.22,100.03 626.96,99.24 C628.69,98.45 631.73,94.5 633.46,95.29 C635.2,96.08 635.85,101.48 637.37,103.98 C638.89,106.48 640.41,108.46 642.57,110.3 C644.74,112.14 648.21,114.12 650.38,115.04 C652.55,115.96 654.07,115.3 655.59,115.83 C657.11,116.36 657.76,117.81 659.49,118.2 C661.23,118.59 664.92,118.2 666,118.2" fill="none" stroke="#ee3a3a" stroke-width="0.9" stroke-linejoin="round"/>
<path d="M574.9,106.35 C575.07,97.79 575.29,58.03 575.94,55 C576.59,51.97 577.89,82.52 578.8,88.18 C579.72,93.84 580.43,89.1 581.41,88.97 C582.38,88.84 583.58,86.86 584.66,87.39 C585.75,87.92 586.29,90.29 587.91,92.13 C589.54,93.97 592.25,97.4 594.42,98.45 C596.59,99.5 599.19,98.71 600.93,98.45 C602.66,98.19 603.53,95.69 604.83,96.87 C606.13,98.06 607.22,104.11 608.74,105.56 C610.26,107.01 612.64,105.82 613.94,105.56 C615.24,105.3 615.03,103.19 616.55,103.98 C618.06,104.77 621.32,109.51 623.05,110.3 C624.79,111.09 625.22,109.77 626.96,108.72 C628.69,107.67 631.73,103.06 633.46,103.98 C635.2,104.9 635.85,111.75 637.37,114.25 C638.89,116.75 639.97,117.8 642.57,118.99 C645.18,120.17 650.17,120.57 652.99,121.36 C655.81,122.15 657.32,123.34 659.49,123.73 C661.66,124.12 664.92,123.73 666,123.73" fill="none" stroke="#383838" stroke-width="0.9" stroke-linejoin="round"/>
<rect x="574.9" y="47.1" width="91.1" height="86.9" fill="none" stroke="#8a8a8a" stroke-width="0.7"/>
<line x1="574.9" y1="47.1" x2="574.9" y2="134" stroke="#6a6a6a" stroke-width="0.8"/>
<line x1="574.9" y1="134" x2="666" y2="134" stroke="#6a6a6a" stroke-width="0.8"/>
<text x="573.7" y="136.41" font-size="6.7" font-weight="bold" text-anchor="end" fill="#222" stroke="#222" stroke-width="0.12" >0</text>
<text x="573.7" y="120.61" font-size="6.7" font-weight="bold" text-anchor="end" fill="#222" textLength="6.9" lengthAdjust="spacingAndGlyphs" stroke="#222" stroke-width="0.12" >0.2</text>
<text x="573.7" y="104.81" font-size="6.7" font-weight="bold" text-anchor="end" fill="#222" textLength="6.9" lengthAdjust="spacingAndGlyphs" stroke="#222" stroke-width="0.12" >0.4</text>
<text x="573.7" y="89.01" font-size="6.7" font-weight="bold" text-anchor="end" fill="#222" textLength="6.9" lengthAdjust="spacingAndGlyphs" stroke="#222" stroke-width="0.12" >0.6</text>
<text x="573.7" y="73.21" font-size="6.7" font-weight="bold" text-anchor="end" fill="#222" textLength="6.9" lengthAdjust="spacingAndGlyphs" stroke="#222" stroke-width="0.12" >0.8</text>
<text x="573.7" y="57.41" font-size="6.7" font-weight="bold" text-anchor="end" fill="#222" stroke="#222" stroke-width="0.12" >1</text>
<text x="574.9" y="141.3" font-size="6.7" font-weight="bold" text-anchor="middle" fill="#222" stroke="#222" stroke-width="0.12" >0</text>
<text x="600.93" y="141.3" font-size="6.7" font-weight="bold" text-anchor="middle" fill="#222" textLength="9.18" lengthAdjust="spacingAndGlyphs" stroke="#222" stroke-width="0.12" >200</text>
<text x="626.96" y="141.3" font-size="6.7" font-weight="bold" text-anchor="middle" fill="#222" textLength="9.18" lengthAdjust="spacingAndGlyphs" stroke="#222" stroke-width="0.12" >400</text>
<text x="652.99" y="141.3" font-size="6.7" font-weight="bold" text-anchor="middle" fill="#222" textLength="9.18" lengthAdjust="spacingAndGlyphs" stroke="#222" stroke-width="0.12" >600</text>
<text x="620" y="148.8" font-size="6.5" font-weight="bold" text-anchor="middle" fill="#222" textLength="28" lengthAdjust="spacingAndGlyphs" stroke="#222" stroke-width="0.12" >Depth [μm]</text>
<text x="564" y="90.3" font-size="6.1" font-weight="bold" text-anchor="middle" fill="#222" textLength="82.4" lengthAdjust="spacingAndGlyphs" transform="rotate(-90 564 90.3)" stroke="#222" stroke-width="0.12" >Normalized intensity (A.U.)</text>
<rect x="622.5" y="48" width="42.5" height="20.4" fill="#fff" stroke="#9a9a9a" stroke-width="0.6"/>
<line x1="624" y1="53.5" x2="631" y2="53.5" stroke="#ee3a3a" stroke-width="0.9"/>
<text x="632.5" y="55.81" font-size="6.6" font-weight="bold" text-anchor="start" fill="#1a1a1a" textLength="18.5" lengthAdjust="spacingAndGlyphs" stroke="#1a1a1a" stroke-width="0.12" >Control</text>
<line x1="624" y1="63.5" x2="631" y2="63.5" stroke="#383838" stroke-width="0.9"/>
<text x="632.5" y="65.81" font-size="6.6" font-weight="bold" text-anchor="start" fill="#1a1a1a" textLength="31" lengthAdjust="spacingAndGlyphs" stroke="#1a1a1a" stroke-width="0.12" >Art-removed</text>
<rect x="58.3" y="212.2" width="121.6" height="95.6" fill="#fff"/>
<line x1="93.04" y1="212.2" x2="93.04" y2="307.8" stroke="#a0a0a0" stroke-width="0.55" stroke-dasharray="2.2,1.2"/>
<line x1="127.79" y1="212.2" x2="127.79" y2="307.8" stroke="#a0a0a0" stroke-width="0.55" stroke-dasharray="2.2,1.2"/>
<line x1="162.53" y1="212.2" x2="162.53" y2="307.8" stroke="#a0a0a0" stroke-width="0.55" stroke-dasharray="2.2,1.2"/>
<line x1="58.3" y1="290.42" x2="179.9" y2="290.42" stroke="#a0a0a0" stroke-width="0.55" stroke-dasharray="2.2,1.2"/>
<line x1="58.3" y1="273.04" x2="179.9" y2="273.04" stroke="#a0a0a0" stroke-width="0.55" stroke-dasharray="2.2,1.2"/>
<line x1="58.3" y1="255.65" x2="179.9" y2="255.65" stroke="#a0a0a0" stroke-width="0.55" stroke-dasharray="2.2,1.2"/>
<line x1="58.3" y1="238.27" x2="179.9" y2="238.27" stroke="#a0a0a0" stroke-width="0.55" stroke-dasharray="2.2,1.2"/>
<line x1="58.3" y1="220.89" x2="179.9" y2="220.89" stroke="#a0a0a0" stroke-width="0.55" stroke-dasharray="2.2,1.2"/>
<path d="M58.3,277.38 C58.56,268.69 58.94,228.71 59.86,225.24 C60.79,221.76 62.56,251.45 63.86,256.52 C65.16,261.59 66.26,255.51 67.68,255.65 C69.1,255.8 69.77,256.52 72.37,257.39 C74.98,258.26 79.7,260.43 83.31,260.87 C86.93,261.3 90.99,259.28 94.09,260 C97.18,260.72 98.78,264.06 101.9,265.21 C105.03,266.37 108.94,265.65 112.85,266.95 C116.75,268.26 121.71,272.6 125.35,273.04 C129,273.47 131.61,268.11 134.73,269.56 C137.86,271.01 140.73,278.98 144.11,281.73 C147.5,284.48 151.15,284.48 155.06,286.07 C158.97,287.67 164.7,290.71 167.57,291.29 C170.43,291.87 170.2,289.4 172.26,289.55 C174.31,289.69 178.63,291.72 179.9,292.16" fill="none" stroke="#ee3a3a" stroke-width="0.9" stroke-linejoin="round"/>
<path d="M58.3,277.38 C58.56,268.69 58.99,227.41 59.86,225.24 C60.73,223.06 61.95,258.26 63.51,264.35 C65.07,270.43 67.25,261.3 69.24,261.74 C71.24,262.17 73.15,265.21 75.5,266.95 C77.84,268.69 80.22,272.31 83.31,272.17 C86.41,272.02 90.73,265.21 94.09,266.08 C97.44,266.95 100.34,275.79 103.47,277.38 C106.59,278.98 109.72,275.21 112.85,275.64 C115.97,276.08 118.84,279.99 122.23,279.99 C125.61,279.99 129.52,274.2 133.17,275.64 C136.82,277.09 140.47,285.93 144.11,288.68 C147.76,291.43 151.15,291 155.06,292.16 C158.97,293.32 164.7,295.34 167.57,295.63 C170.43,295.92 170.2,293.75 172.26,293.89 C174.31,294.04 178.63,296.07 179.9,296.5" fill="none" stroke="#383838" stroke-width="0.9" stroke-linejoin="round"/>
<rect x="58.3" y="212.2" width="121.6" height="95.6" fill="none" stroke="#8a8a8a" stroke-width="0.7"/>
<line x1="58.3" y1="212.2" x2="58.3" y2="307.8" stroke="#6a6a6a" stroke-width="0.8"/>
<line x1="58.3" y1="307.8" x2="179.9" y2="307.8" stroke="#6a6a6a" stroke-width="0.8"/>
<text x="57.1" y="310.39" font-size="7.2" font-weight="bold" text-anchor="end" fill="#222" stroke="#222" stroke-width="0.3" >0</text>
<text x="57.1" y="293.01" font-size="7.2" font-weight="bold" text-anchor="end" fill="#222" stroke="#222" stroke-width="0.3" >0.2</text>
<text x="57.1" y="275.63" font-size="7.2" font-weight="bold" text-anchor="end" fill="#222" stroke="#222" stroke-width="0.3" >0.4</text>
<text x="57.1" y="258.25" font-size="7.2" font-weight="bold" text-anchor="end" fill="#222" stroke="#222" stroke-width="0.3" >0.6</text>
<text x="57.1" y="240.86" font-size="7.2" font-weight="bold" text-anchor="end" fill="#222" stroke="#222" stroke-width="0.3" >0.8</text>
<text x="57.1" y="223.48" font-size="7.2" font-weight="bold" text-anchor="end" fill="#222" stroke="#222" stroke-width="0.3" >1</text>
<text x="58.3" y="316.3" font-size="7.2" font-weight="bold" text-anchor="middle" fill="#222" stroke="#222" stroke-width="0.3" >0</text>
<text x="93.04" y="316.3" font-size="7.2" font-weight="bold" text-anchor="middle" fill="#222" stroke="#222" stroke-width="0.3" >200</text>
<text x="127.79" y="316.3" font-size="7.2" font-weight="bold" text-anchor="middle" fill="#222" stroke="#222" stroke-width="0.3" >400</text>
<text x="162.53" y="316.3" font-size="7.2" font-weight="bold" text-anchor="middle" fill="#222" stroke="#222" stroke-width="0.3" >600</text>
<text x="118.1" y="323.6" font-size="7.4" font-weight="bold" text-anchor="middle" fill="#222" textLength="42.6" lengthAdjust="spacingAndGlyphs" stroke="#222" stroke-width="0.3" >Depth [μm]</text>
<text x="43.1" y="259.6" font-size="7.4" font-weight="bold" text-anchor="middle" fill="#222" textLength="89.4" lengthAdjust="spacingAndGlyphs" transform="rotate(-90 43.1 259.6)" stroke="#222" stroke-width="0.3" >Normalized intensity (a.u.)</text>
<rect x="119.4" y="214.1" width="59.3" height="21.4" fill="#fff" stroke="#9a9a9a" stroke-width="0.6"/>
<line x1="121.5" y1="219.5" x2="131.8" y2="219.5" stroke="#ee3a3a" stroke-width="0.9"/>
<text x="133.3" y="222.3" font-size="8" font-weight="bold" text-anchor="start" fill="#1a1a1a" textLength="24.6" lengthAdjust="spacingAndGlyphs" stroke="#1a1a1a" stroke-width="0.3" >Control</text>
<line x1="121.5" y1="230.5" x2="131.8" y2="230.5" stroke="#383838" stroke-width="0.9"/>
<text x="133.3" y="232.8" font-size="8" font-weight="bold" text-anchor="start" fill="#1a1a1a" textLength="43.5" lengthAdjust="spacingAndGlyphs" stroke="#1a1a1a" stroke-width="0.3" >Art-removed</text>
<rect x="284.2" y="214" width="121.4" height="95.4" fill="#fff"/>
<line x1="318.89" y1="214" x2="318.89" y2="309.4" stroke="#a0a0a0" stroke-width="0.55" stroke-dasharray="2.2,1.2"/>
<line x1="353.57" y1="214" x2="353.57" y2="309.4" stroke="#a0a0a0" stroke-width="0.55" stroke-dasharray="2.2,1.2"/>
<line x1="388.26" y1="214" x2="388.26" y2="309.4" stroke="#a0a0a0" stroke-width="0.55" stroke-dasharray="2.2,1.2"/>
<line x1="284.2" y1="292.05" x2="405.6" y2="292.05" stroke="#a0a0a0" stroke-width="0.55" stroke-dasharray="2.2,1.2"/>
<line x1="284.2" y1="274.71" x2="405.6" y2="274.71" stroke="#a0a0a0" stroke-width="0.55" stroke-dasharray="2.2,1.2"/>
<line x1="284.2" y1="257.36" x2="405.6" y2="257.36" stroke="#a0a0a0" stroke-width="0.55" stroke-dasharray="2.2,1.2"/>
<line x1="284.2" y1="240.02" x2="405.6" y2="240.02" stroke="#a0a0a0" stroke-width="0.55" stroke-dasharray="2.2,1.2"/>
<line x1="284.2" y1="222.67" x2="405.6" y2="222.67" stroke="#a0a0a0" stroke-width="0.55" stroke-dasharray="2.2,1.2"/>
<path d="M284.2,274.71 C284.46,266.47 284.81,227.24 285.76,225.27 C286.71,223.31 288.45,257.16 289.92,262.91 C291.4,268.67 292.52,258.84 294.61,259.79 C296.69,260.75 299.81,267.11 302.41,268.64 C305.01,270.17 307.09,270.03 310.21,268.99 C313.34,267.94 317.76,261.73 321.14,262.39 C324.52,263.06 327.12,270.86 330.51,272.97 C333.89,275.08 337.82,273.93 341.43,275.06 C345.04,276.18 348.98,279.51 352.18,279.74 C355.39,279.97 357.3,275.2 360.68,276.44 C364.06,277.69 368.43,284.77 372.48,287.2 C376.52,289.63 381.32,289.19 384.96,291.01 C388.6,292.84 391.47,297.32 394.33,298.13 C397.19,298.93 400.11,296.19 402.13,295.87 C404.15,295.55 405.74,296.16 406.47,296.22" fill="none" stroke="#ee3a3a" stroke-width="0.75" stroke-linejoin="round"/>
<path d="M284.2,274.71 C284.46,266.47 285.07,227.44 285.76,225.27 C286.45,223.11 287.15,256.06 288.36,261.7 C289.58,267.34 290.96,258.66 293.04,259.1 C295.13,259.53 298.25,262.86 300.85,264.3 C303.45,265.75 305.53,268.2 308.65,267.77 C311.78,267.34 316.2,261.56 319.58,261.7 C322.96,261.84 325.56,266.61 328.94,268.64 C332.33,270.66 336.26,272.11 339.87,273.84 C343.48,275.58 347.41,279.33 350.62,279.05 C353.83,278.76 355.74,270.95 359.12,272.11 C362.5,273.26 366.87,282.95 370.91,285.98 C374.96,289.02 379.76,289.02 383.4,290.32 C387.04,291.62 389.9,293.07 392.77,293.79 C395.63,294.51 398.55,294.37 400.57,294.66 C402.59,294.95 404.18,295.38 404.91,295.52" fill="none" stroke="#ee3a3a" stroke-width="0.75" stroke-linejoin="round"/>
<path d="M284.2,274.71 C284.46,266.47 284.95,227.99 285.76,225.27 C286.57,222.56 287.73,253.06 289.06,258.4 C290.39,263.75 291.66,256.58 293.74,257.36 C295.82,258.14 298.94,261.9 301.54,263.09 C304.14,264.27 306.23,265 309.35,264.48 C312.47,263.95 316.89,259.47 320.27,259.97 C323.65,260.46 326.26,265.66 329.64,267.42 C333.02,269.19 336.95,268.9 340.56,270.55 C344.18,272.19 348.11,277.25 351.32,277.31 C354.53,277.37 356.43,270 359.81,270.89 C363.2,271.79 367.56,279.74 371.61,282.69 C375.65,285.64 380.45,286.94 384.09,288.59 C387.74,290.23 390.6,292.11 393.46,292.57 C396.32,293.04 399.24,291.16 401.26,291.36 C403.29,291.56 404.88,293.38 405.6,293.79" fill="none" stroke="#ee3a3a" stroke-width="0.75" stroke-linejoin="round"/>
<path d="M284.2,274.71 C284.46,266.47 284.86,228.28 285.76,225.27 C286.66,222.27 288.16,251.7 289.58,256.67 C290.99,261.64 292.18,254.41 294.26,255.11 C296.34,255.8 299.46,259.56 302.06,260.83 C304.66,262.1 306.75,263.26 309.87,262.74 C312.99,262.22 317.41,257.31 320.79,257.71 C324.18,258.12 326.78,263.32 330.16,265.17 C333.54,267.02 337.47,267.16 341.08,268.81 C344.7,270.46 348.63,275.08 351.84,275.06 C355.05,275.03 356.95,267.66 360.34,268.64 C363.72,269.62 368.08,278 372.13,280.95 C376.17,283.9 380.97,284.77 384.62,286.33 C388.26,287.89 391.12,289.77 393.98,290.32 C396.84,290.87 399.76,289.42 401.78,289.63 C403.81,289.83 405.4,291.22 406.12,291.53" fill="none" stroke="#ee3a3a" stroke-width="0.75" stroke-linejoin="round"/>
<path d="M284.2,274.71 C284.46,266.47 285.12,228.67 285.76,225.27 C286.4,221.88 286.86,249.67 288.02,254.33 C289.17,258.98 290.62,252.28 292.7,253.2 C294.78,254.13 297.9,258.68 300.5,259.88 C303.1,261.08 305.18,261.08 308.31,260.4 C311.43,259.72 315.85,255.17 319.23,255.8 C322.61,256.44 325.22,262.44 328.6,264.22 C331.98,265.99 335.91,264.98 339.52,266.47 C343.14,267.96 347.07,272.95 350.28,273.15 C353.48,273.35 355.39,266.77 358.77,267.68 C362.16,268.59 366.52,275.82 370.57,278.61 C374.61,281.4 379.41,282.63 383.05,284.42 C386.7,286.21 389.56,288.89 392.42,289.37 C395.28,289.84 398.2,287.24 400.22,287.28 C402.25,287.33 403.84,289.24 404.56,289.63" fill="none" stroke="#ee3a3a" stroke-width="0.75" stroke-linejoin="round"/>
<path d="M284.2,274.71 C284.46,266.47 285.12,225.56 285.76,225.27 C286.4,224.99 286.86,266.09 288.02,272.97 C289.17,279.85 290.62,266.15 292.7,266.56 C294.78,266.96 297.9,273.32 300.5,275.4 C303.1,277.48 305.18,279.8 308.31,279.05 C311.43,278.29 315.85,270.2 319.23,270.89 C322.61,271.59 325.22,281.27 328.6,283.21 C331.98,285.15 335.91,281.97 339.52,282.51 C343.14,283.06 347.07,286.68 350.28,286.5 C353.48,286.33 355.39,279.68 358.77,281.47 C362.16,283.27 366.52,294.54 370.57,297.26 C374.61,299.98 379.41,296.8 383.05,297.78 C386.7,298.76 389.56,302.52 392.42,303.16 C395.28,303.79 398.2,301.91 400.22,301.59 C402.25,301.28 403.84,301.31 404.56,301.25" fill="none" stroke="#1e1e1e" stroke-width="0.75" stroke-linejoin="round"/>
<path d="M284.2,274.71 C284.46,266.47 284.84,226.08 285.76,225.27 C286.69,224.47 288.3,263.03 289.75,269.85 C291.19,276.67 292.35,265.4 294.43,266.21 C296.51,267.02 299.64,273.09 302.24,274.71 C304.84,276.33 306.92,276.62 310.04,275.92 C313.16,275.23 317.58,269.45 320.97,270.55 C324.35,271.64 326.95,281.04 330.33,282.51 C333.71,283.99 337.64,278.79 341.26,279.39 C344.87,280 348.8,285.93 352.01,286.16 C355.22,286.39 357.13,279.45 360.51,280.78 C363.89,282.11 368.26,291.36 372.3,294.14 C376.35,296.91 381.15,296.04 384.79,297.43 C388.43,298.82 391.29,302.29 394.15,302.46 C397.02,302.64 399.93,298.73 401.96,298.47 C403.98,298.21 405.57,300.5 406.29,300.9" fill="none" stroke="#1e1e1e" stroke-width="0.75" stroke-linejoin="round"/>
<path d="M284.2,274.71 C284.46,266.47 284.95,226.2 285.76,225.27 C286.57,224.35 287.73,262.51 289.06,269.16 C290.39,275.81 291.66,264.65 293.74,265.17 C295.82,265.69 298.94,270.6 301.54,272.28 C304.14,273.96 306.23,275.69 309.35,275.23 C312.47,274.77 316.89,268.7 320.27,269.51 C323.65,270.31 326.26,278.55 329.64,280.09 C333.02,281.62 336.95,277.86 340.56,278.7 C344.18,279.54 348.11,285.17 351.32,285.12 C354.53,285.06 356.43,276.96 359.81,278.35 C363.2,279.74 367.56,290.44 371.61,293.44 C375.65,296.45 380.45,295.29 384.09,296.39 C387.74,297.49 390.6,299.8 393.46,300.03 C396.32,300.26 399.24,297.81 401.26,297.78 C403.29,297.75 404.88,299.51 405.6,299.86" fill="none" stroke="#1e1e1e" stroke-width="0.75" stroke-linejoin="round"/>
<path d="M284.2,274.71 C284.46,266.47 285.04,226.43 285.76,225.27 C286.48,224.12 287.29,261.41 288.54,267.77 C289.78,274.13 291.14,262.86 293.22,263.43 C295.3,264.01 298.42,269.51 301.02,271.24 C303.62,272.97 305.71,274.42 308.83,273.84 C311.95,273.26 316.37,266.9 319.75,267.77 C323.13,268.64 325.74,277.46 329.12,279.05 C332.5,280.64 336.43,276.59 340.04,277.31 C343.66,278.03 347.59,283.38 350.8,283.38 C354,283.38 355.91,275.87 359.29,277.31 C362.68,278.76 367.04,289.16 371.09,292.05 C375.13,294.95 379.93,293.5 383.57,294.66 C387.22,295.81 390.08,298.7 392.94,298.99 C395.8,299.28 398.72,296.54 400.74,296.39 C402.77,296.25 404.36,297.84 405.08,298.13" fill="none" stroke="#1e1e1e" stroke-width="0.75" stroke-linejoin="round"/>
<path d="M284.2,274.71 C284.46,266.47 284.78,226.65 285.76,225.27 C286.74,223.9 288.59,260.4 290.1,266.47 C291.6,272.54 292.7,261.27 294.78,261.7 C296.86,262.13 299.98,267.26 302.58,269.07 C305.18,270.88 307.27,273.05 310.39,272.54 C313.51,272.03 317.93,265.31 321.31,266.04 C324.7,266.76 327.3,275.21 330.68,276.88 C334.06,278.54 337.99,275.21 341.6,276.01 C345.22,276.81 349.15,281.79 352.36,281.65 C355.57,281.5 357.47,273.62 360.86,275.14 C364.24,276.66 368.6,287.79 372.65,290.75 C376.7,293.72 381.49,291.91 385.14,292.92 C388.78,293.93 391.64,296.46 394.5,296.82 C397.36,297.19 400.28,295.16 402.3,295.09 C404.33,295.02 405.92,296.17 406.64,296.39" fill="none" stroke="#1e1e1e" stroke-width="0.75" stroke-linejoin="round"/>
<rect x="284.2" y="214" width="121.4" height="95.4" fill="none" stroke="#8a8a8a" stroke-width="0.7"/>
<line x1="284.2" y1="214" x2="284.2" y2="309.4" stroke="#6a6a6a" stroke-width="0.8"/>
<line x1="284.2" y1="309.4" x2="405.6" y2="309.4" stroke="#6a6a6a" stroke-width="0.8"/>
<text x="283" y="311.99" font-size="7.2" font-weight="bold" text-anchor="end" fill="#222" stroke="#222" stroke-width="0.3" >0</text>
<text x="283" y="294.65" font-size="7.2" font-weight="bold" text-anchor="end" fill="#222" stroke="#222" stroke-width="0.3" >0.2</text>
<text x="283" y="277.3" font-size="7.2" font-weight="bold" text-anchor="end" fill="#222" stroke="#222" stroke-width="0.3" >0.4</text>
<text x="283" y="259.96" font-size="7.2" font-weight="bold" text-anchor="end" fill="#222" stroke="#222" stroke-width="0.3" >0.6</text>
<text x="283" y="242.61" font-size="7.2" font-weight="bold" text-anchor="end" fill="#222" stroke="#222" stroke-width="0.3" >0.8</text>
<text x="283" y="225.26" font-size="7.2" font-weight="bold" text-anchor="end" fill="#222" stroke="#222" stroke-width="0.3" >1</text>
<text x="284.2" y="317.5" font-size="7.2" font-weight="bold" text-anchor="middle" fill="#222" stroke="#222" stroke-width="0.3" >0</text>
<text x="318.89" y="317.5" font-size="7.2" font-weight="bold" text-anchor="middle" fill="#222" stroke="#222" stroke-width="0.3" >200</text>
<text x="353.57" y="317.5" font-size="7.2" font-weight="bold" text-anchor="middle" fill="#222" stroke="#222" stroke-width="0.3" >400</text>
<text x="388.26" y="317.5" font-size="7.2" font-weight="bold" text-anchor="middle" fill="#222" stroke="#222" stroke-width="0.3" >600</text>
<text x="344" y="325" font-size="7.4" font-weight="bold" text-anchor="middle" fill="#222" textLength="42.6" lengthAdjust="spacingAndGlyphs" stroke="#222" stroke-width="0.3" >Depth [μm]</text>
<text x="268.3" y="261.8" font-size="7.4" font-weight="bold" text-anchor="middle" fill="#222" textLength="89" lengthAdjust="spacingAndGlyphs" transform="rotate(-90 268.3 261.8)" stroke="#222" stroke-width="0.3" >Normalized intensity (a.u.)</text>
<rect x="345.5" y="216.3" width="59" height="21.2" fill="#fff" stroke="#9a9a9a" stroke-width="0.6"/>
<line x1="347.1" y1="221.5" x2="357.3" y2="221.5" stroke="#ee3a3a" stroke-width="0.9"/>
<text x="358.9" y="224.1" font-size="8" font-weight="bold" text-anchor="start" fill="#1a1a1a" textLength="25.1" lengthAdjust="spacingAndGlyphs" stroke="#1a1a1a" stroke-width="0.3" >Control</text>
<line x1="347.1" y1="231.5" x2="357.3" y2="231.5" stroke="#383838" stroke-width="0.9"/>
<text x="358.9" y="234.6" font-size="8" font-weight="bold" text-anchor="start" fill="#1a1a1a" textLength="44" lengthAdjust="spacingAndGlyphs" stroke="#1a1a1a" stroke-width="0.3" >Art-removed</text>
<rect x="511.3" y="214.3" width="116.4" height="97.1" fill="#fff"/>
<line x1="544.56" y1="214.3" x2="544.56" y2="311.4" stroke="#a0a0a0" stroke-width="0.55" stroke-dasharray="2.2,1.2"/>
<line x1="577.81" y1="214.3" x2="577.81" y2="311.4" stroke="#a0a0a0" stroke-width="0.55" stroke-dasharray="2.2,1.2"/>
<line x1="611.07" y1="214.3" x2="611.07" y2="311.4" stroke="#a0a0a0" stroke-width="0.55" stroke-dasharray="2.2,1.2"/>
<line x1="511.3" y1="293.75" x2="627.7" y2="293.75" stroke="#a0a0a0" stroke-width="0.55" stroke-dasharray="2.2,1.2"/>
<line x1="511.3" y1="276.09" x2="627.7" y2="276.09" stroke="#a0a0a0" stroke-width="0.55" stroke-dasharray="2.2,1.2"/>
<line x1="511.3" y1="258.44" x2="627.7" y2="258.44" stroke="#a0a0a0" stroke-width="0.55" stroke-dasharray="2.2,1.2"/>
<line x1="511.3" y1="240.78" x2="627.7" y2="240.78" stroke="#a0a0a0" stroke-width="0.55" stroke-dasharray="2.2,1.2"/>
<line x1="511.3" y1="223.13" x2="627.7" y2="223.13" stroke="#a0a0a0" stroke-width="0.55" stroke-dasharray="2.2,1.2"/>
<path d="M511.3,271.68 C511.55,264.32 511.85,230.04 512.8,227.54 C513.74,225.04 515.37,252.11 516.95,256.67 C518.53,261.23 520.33,254.02 522.27,254.91 C524.21,255.79 526.24,260.2 528.59,261.97 C530.95,263.73 533.64,265.35 536.41,265.5 C539.18,265.65 542.06,261.82 545.22,262.85 C548.38,263.88 552.21,270.65 555.37,271.68 C558.53,272.71 561.3,268.59 564.18,269.03 C567.06,269.47 569.67,274.33 572.66,274.33 C575.65,274.33 578.98,267.41 582.14,269.03 C585.3,270.65 588.21,280.5 591.62,284.04 C595.02,287.57 598.93,288.89 602.59,290.21 C606.25,291.54 610.96,291.24 613.57,291.98 C616.17,292.72 616.64,294.33 618.22,294.63 C619.8,294.92 621.46,293.6 623.04,293.75 C624.62,293.89 626.92,295.22 627.7,295.51" fill="none" stroke="#ee3a3a" stroke-width="0.9" stroke-linejoin="round"/>
<path d="M511.3,271.68 C511.55,264.32 511.85,229.16 512.8,227.54 C513.74,225.92 515.37,256.97 516.95,261.97 C518.53,266.97 520.33,256.82 522.27,257.55 C524.21,258.29 526.24,263.88 528.59,266.38 C530.95,268.88 533.64,272.12 536.41,272.56 C539.18,273 541.81,267.7 545.22,269.03 C548.63,270.35 553.62,278.89 556.86,280.5 C560.1,282.12 562.04,278 564.68,278.74 C567.31,279.47 569.75,284.92 572.66,284.92 C575.57,284.92 578.98,277.42 582.14,278.74 C585.3,280.06 588.21,289.92 591.62,292.86 C595.02,295.81 598.93,295.22 602.59,296.39 C606.25,297.57 610.68,299.48 613.57,299.92 C616.45,300.37 617.53,298.89 619.88,299.04 C622.24,299.19 626.4,300.51 627.7,300.81" fill="none" stroke="#383838" stroke-width="0.9" stroke-linejoin="round"/>
<rect x="511.3" y="214.3" width="116.4" height="97.1" fill="none" stroke="#8a8a8a" stroke-width="0.7"/>
<line x1="511.3" y1="214.3" x2="511.3" y2="311.4" stroke="#6a6a6a" stroke-width="0.8"/>
<line x1="511.3" y1="311.4" x2="627.7" y2="311.4" stroke="#6a6a6a" stroke-width="0.8"/>
<text x="510.1" y="313.99" font-size="7.2" font-weight="bold" text-anchor="end" fill="#222" stroke="#222" stroke-width="0.3" >0</text>
<text x="510.1" y="296.34" font-size="7.2" font-weight="bold" text-anchor="end" fill="#222" stroke="#222" stroke-width="0.3" >0.2</text>
<text x="510.1" y="278.68" font-size="7.2" font-weight="bold" text-anchor="end" fill="#222" stroke="#222" stroke-width="0.3" >0.4</text>
<text x="510.1" y="261.03" font-size="7.2" font-weight="bold" text-anchor="end" fill="#222" stroke="#222" stroke-width="0.3" >0.6</text>
<text x="510.1" y="243.37" font-size="7.2" font-weight="bold" text-anchor="end" fill="#222" stroke="#222" stroke-width="0.3" >0.8</text>
<text x="510.1" y="225.72" font-size="7.2" font-weight="bold" text-anchor="end" fill="#222" stroke="#222" stroke-width="0.3" >1</text>
<text x="511.3" y="320" font-size="7.2" font-weight="bold" text-anchor="middle" fill="#222" stroke="#222" stroke-width="0.3" >0</text>
<text x="544.56" y="320" font-size="7.2" font-weight="bold" text-anchor="middle" fill="#222" stroke="#222" stroke-width="0.3" >200</text>
<text x="577.81" y="320" font-size="7.2" font-weight="bold" text-anchor="middle" fill="#222" stroke="#222" stroke-width="0.3" >400</text>
<text x="611.07" y="320" font-size="7.2" font-weight="bold" text-anchor="middle" fill="#222" stroke="#222" stroke-width="0.3" >600</text>
<text x="569" y="328" font-size="7.4" font-weight="bold" text-anchor="middle" fill="#222" textLength="42.4" lengthAdjust="spacingAndGlyphs" stroke="#222" stroke-width="0.3" >Depth [μm]</text>
<text x="496.8" y="261.5" font-size="7.4" font-weight="bold" text-anchor="middle" fill="#222" textLength="90" lengthAdjust="spacingAndGlyphs" transform="rotate(-90 496.8 261.5)" stroke="#222" stroke-width="0.3" >Normalized intensity (a.u.)</text>
<rect x="569.4" y="216.5" width="57.4" height="22.7" fill="#fff" stroke="#9a9a9a" stroke-width="0.6"/>
<line x1="571.7" y1="223.5" x2="581.2" y2="223.5" stroke="#ee3a3a" stroke-width="0.9"/>
<text x="582.8" y="225.9" font-size="8" font-weight="bold" text-anchor="start" fill="#1a1a1a" textLength="24.1" lengthAdjust="spacingAndGlyphs" stroke="#1a1a1a" stroke-width="0.3" >Control</text>
<line x1="571.7" y1="233.5" x2="581.2" y2="233.5" stroke="#383838" stroke-width="0.9"/>
<text x="582.8" y="236.6" font-size="8" font-weight="bold" text-anchor="start" fill="#1a1a1a" textLength="41.9" lengthAdjust="spacingAndGlyphs" stroke="#1a1a1a" stroke-width="0.3" >Art-removed</text>
</svg></body></html>
